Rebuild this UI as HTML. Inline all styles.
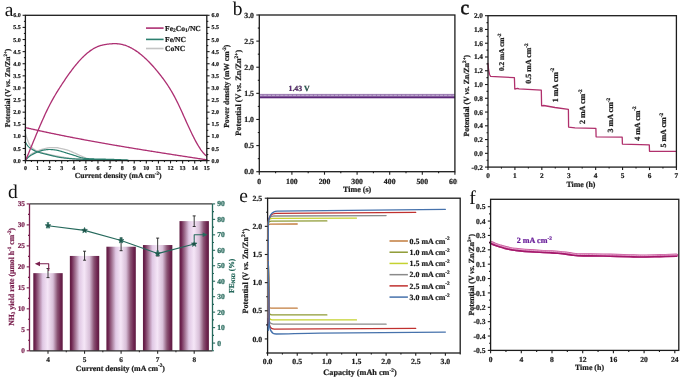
<!DOCTYPE html>
<html><head><meta charset="utf-8"><style>
html,body{margin:0;padding:0;background:#fff;}
svg{display:block;will-change:transform;}
text{font-family:"Liberation Serif",serif;text-rendering:geometricPrecision;}
</style></head><body>
<svg width="685" height="378" viewBox="0 0 685 378">
<rect x="0" y="0" width="685" height="378" fill="#fff"/>
<text x="0" y="0" font-size="78" text-anchor="middle" fill="#111" font-weight="normal" font-family="Liberation Serif" transform="translate(9 15.9) scale(0.25)" >a</text>
<path d="M25.5,133.5 L26,135.32 L26.5,137.01 L27,138.48 L27.5,139.83 L28,141.13 L28.5,142.33 L29,143.42 L29.5,144.37 L30,145.14 L30.5,145.82 L31,146.44 L31.5,147.01 L32,147.52 L32.5,147.99 L33,148.41 L33.5,148.79 L34,149.13 L34.5,149.45 L35,149.74 L35.5,150.01 L36,150.26 L36.5,150.49 L37,150.72 L37.5,150.93 L38,151.13 L38.5,151.32 L39,151.51 L39.5,151.7 L40,151.88 L40.5,152.05 L41,152.22 L41.5,152.39 L42,152.55 L42.5,152.71 L43,152.86 L43.5,153.01 L44,153.15 L44.5,153.29 L45,153.43 L45.5,153.57 L46,153.7 L46.5,153.83 L47,153.95 L47.5,154.08 L48,154.2 L48.5,154.32 L49,154.44 L49.5,154.55 L50,154.66 L50.5,154.77 L51,154.88 L51.5,154.99 L52,155.09 L52.5,155.19 L53,155.29 L53.5,155.39 L54,155.49 L54.5,155.58 L55,155.68 L55.5,155.77 L56,155.87 L56.5,155.96 L57,156.05 L57.5,156.14 L58,156.23 L58.5,156.33 L59,156.42 L59.5,156.51 L60,156.6 L60.5,156.69 L61,156.79 L61.5,156.88 L62,156.97 L62.5,157.07 L63,157.16 L63.5,157.26 L64,157.35 L64.5,157.44 L65,157.53 L65.5,157.62 L66,157.71 L66.5,157.79 L67,157.88 L67.5,157.95 L68,158.03 L68.5,158.1 L69,158.17 L69.5,158.24 L70,158.3 L70.5,158.36 L71,158.42 L71.5,158.47 L72,158.53 L72.5,158.59 L73,158.64 L73.5,158.69 L74,158.75 L74.5,158.8 L75,158.84 L75.5,158.89 L76,158.93 L76.5,158.98 L77,159.02 L77.5,159.05 L78,159.09 L78.5,159.12 L79,159.15 L79.5,159.18 L80,159.2 L80.5,159.22 L81,159.24 L81.5,159.26 L82,159.28 L82.5,159.3 L83,159.32 L83.5,159.33 L84,159.35 L84.5,159.37 L85,159.38 L85.5,159.4 L86,159.41 L86.5,159.43 L87,159.44 L87.5,159.46 L88,159.47 L88.5,159.48 L89,159.49 L89.5,159.5 L90,159.52 L90.5,159.53 L91,159.54 L91.5,159.55 L92,159.55 L92.5,159.56 L93,159.57 L93.5,159.58 L94,159.59 L94.5,159.59 L95,159.6 L95.5,159.61 L96,159.61 L96.5,159.62 L97,159.63 L97.5,159.63 L98,159.64 L98.5,159.64 L99,159.65 L99.5,159.66 L100,159.66 L100.5,159.67 L101,159.67 L101.5,159.68 L102,159.69 L102.5,159.69 L103,159.7 L103.5,159.7 L104,159.71 L104.5,159.71 L105,159.72 L105.5,159.72 L106,159.73 L106.5,159.73 L107,159.74 L107.5,159.74 L108,159.74 L108.5,159.75 L109,159.75 L109.5,159.76 L110,159.76 L110.5,159.76 L111,159.77 L111.5,159.77 L112,159.77 L112.5,159.78 L113,159.78 L113.5,159.78 L114,159.79 L114.5,159.79 L115,159.79 L115.5,159.79 L116,159.79 L116.5,159.79 L117,159.8 L117.5,159.8 L118,159.8 L118.5,159.8 L119,159.8 L119.5,159.8 L120,159.8" fill="none" stroke="#c4c4c4" stroke-width="1.3" stroke-linejoin="round" stroke-linecap="round" />
<path d="M25.5,160 L26,159.34 L26.5,158.69 L27,158.06 L27.5,157.46 L28,156.89 L28.5,156.35 L29,155.86 L29.5,155.4 L30,155 L30.5,154.63 L31,154.29 L31.5,153.96 L32,153.64 L32.5,153.35 L33,153.07 L33.5,152.8 L34,152.54 L34.5,152.29 L35,152.06 L35.5,151.83 L36,151.6 L36.5,151.39 L37,151.17 L37.5,150.96 L38,150.76 L38.5,150.56 L39,150.37 L39.5,150.18 L40,149.99 L40.5,149.82 L41,149.65 L41.5,149.49 L42,149.33 L42.5,149.19 L43,149.05 L43.5,148.92 L44,148.8 L44.5,148.68 L45,148.55 L45.5,148.43 L46,148.31 L46.5,148.19 L47,148.09 L47.5,147.99 L48,147.9 L48.5,147.83 L49,147.77 L49.5,147.72 L50,147.7 L50.5,147.69 L51,147.67 L51.5,147.66 L52,147.65 L52.5,147.64 L53,147.63 L53.5,147.62 L54,147.61 L54.5,147.61 L55,147.6 L55.5,147.6 L56,147.6 L56.5,147.6 L57,147.64 L57.5,147.72 L58,147.82 L58.5,147.94 L59,148.06 L59.5,148.19 L60,148.3 L60.5,148.4 L61,148.51 L61.5,148.62 L62,148.72 L62.5,148.83 L63,148.94 L63.5,149.06 L64,149.17 L64.5,149.3 L65,149.42 L65.5,149.55 L66,149.68 L66.5,149.82 L67,149.97 L67.5,150.12 L68,150.29 L68.5,150.47 L69,150.65 L69.5,150.85 L70,151.05 L70.5,151.25 L71,151.46 L71.5,151.68 L72,151.9 L72.5,152.12 L73,152.34 L73.5,152.56 L74,152.77 L74.5,152.99 L75,153.2 L75.5,153.42 L76,153.65 L76.5,153.87 L77,154.1 L77.5,154.33 L78,154.56 L78.5,154.79 L79,155.02 L79.5,155.25 L80,155.48 L80.5,155.7 L81,155.93 L81.5,156.14 L82,156.36 L82.5,156.58 L83,156.81 L83.5,157.03 L84,157.25 L84.5,157.46 L85,157.67 L85.5,157.87 L86,158.06 L86.5,158.24 L87,158.42 L87.5,158.61 L88,158.8 L88.5,158.97 L89,159.12 L89.5,159.23 L90,159.3 L90.5,159.34 L91,159.38 L91.5,159.41 L92,159.44 L92.5,159.48 L93,159.5 L93.5,159.53 L94,159.56 L94.5,159.58 L95,159.6 L95.5,159.62 L96,159.64 L96.5,159.65 L97,159.66 L97.5,159.68 L98,159.68 L98.5,159.69 L99,159.7 L99.5,159.7 L100,159.7" fill="none" stroke="#c4c4c4" stroke-width="1.3" stroke-linejoin="round" stroke-linecap="round" />
<path d="M25.5,142.1 L26,143.06 L26.5,143.96 L27,144.78 L27.5,145.5 L28,146.11 L28.5,146.64 L29,147.11 L29.5,147.54 L30,147.93 L30.5,148.3 L31,148.63 L31.5,148.96 L32,149.27 L32.5,149.57 L33,149.86 L33.5,150.14 L34,150.4 L34.5,150.65 L35,150.89 L35.5,151.12 L36,151.33 L36.5,151.52 L37,151.71 L37.5,151.89 L38,152.06 L38.5,152.22 L39,152.38 L39.5,152.53 L40,152.68 L40.5,152.83 L41,152.96 L41.5,153.1 L42,153.23 L42.5,153.36 L43,153.48 L43.5,153.61 L44,153.73 L44.5,153.85 L45,153.97 L45.5,154.08 L46,154.2 L46.5,154.32 L47,154.44 L47.5,154.56 L48,154.68 L48.5,154.8 L49,154.92 L49.5,155.05 L50,155.17 L50.5,155.3 L51,155.43 L51.5,155.55 L52,155.68 L52.5,155.8 L53,155.93 L53.5,156.05 L54,156.17 L54.5,156.29 L55,156.41 L55.5,156.52 L56,156.63 L56.5,156.74 L57,156.85 L57.5,156.95 L58,157.05 L58.5,157.14 L59,157.23 L59.5,157.32 L60,157.4 L60.5,157.48 L61,157.55 L61.5,157.63 L62,157.7 L62.5,157.77 L63,157.84 L63.5,157.9 L64,157.97 L64.5,158.03 L65,158.09 L65.5,158.15 L66,158.21 L66.5,158.27 L67,158.32 L67.5,158.37 L68,158.42 L68.5,158.47 L69,158.52 L69.5,158.56 L70,158.6 L70.5,158.64 L71,158.68 L71.5,158.72 L72,158.75 L72.5,158.79 L73,158.83 L73.5,158.86 L74,158.9 L74.5,158.93 L75,158.96 L75.5,158.99 L76,159.02 L76.5,159.05 L77,159.08 L77.5,159.1 L78,159.12 L78.5,159.15 L79,159.17 L79.5,159.18 L80,159.2 L80.5,159.22 L81,159.23 L81.5,159.24 L82,159.26 L82.5,159.27 L83,159.28 L83.5,159.29 L84,159.3 L84.5,159.32 L85,159.33 L85.5,159.34 L86,159.35 L86.5,159.35 L87,159.36 L87.5,159.37 L88,159.38 L88.5,159.39 L89,159.4 L89.5,159.41 L90,159.41 L90.5,159.42 L91,159.43 L91.5,159.44 L92,159.45 L92.5,159.46 L93,159.46 L93.5,159.47 L94,159.48 L94.5,159.49 L95,159.5 L95.5,159.51 L96,159.52 L96.5,159.53 L97,159.54 L97.5,159.55 L98,159.56 L98.5,159.56 L99,159.57 L99.5,159.58 L100,159.59 L100.5,159.6 L101,159.61 L101.5,159.62 L102,159.63 L102.5,159.64 L103,159.65 L103.5,159.66 L104,159.66 L104.5,159.67 L105,159.68 L105.5,159.69 L106,159.7 L106.5,159.71 L107,159.72 L107.5,159.72 L108,159.73 L108.5,159.74 L109,159.75 L109.5,159.76 L110,159.77 L110.5,159.78 L111,159.78 L111.5,159.79 L112,159.8" fill="none" stroke="#2d8070" stroke-width="1.2" stroke-linejoin="round" stroke-linecap="round" />
<path d="M25.5,160 L26,159.48 L26.5,158.96 L27,158.46 L27.5,157.98 L28,157.52 L28.5,157.08 L29,156.67 L29.5,156.28 L30,155.93 L30.5,155.6 L31,155.28 L31.5,154.98 L32,154.68 L32.5,154.4 L33,154.13 L33.5,153.86 L34,153.61 L34.5,153.37 L35,153.14 L35.5,152.91 L36,152.69 L36.5,152.48 L37,152.28 L37.5,152.07 L38,151.87 L38.5,151.66 L39,151.46 L39.5,151.27 L40,151.09 L40.5,150.91 L41,150.74 L41.5,150.59 L42,150.44 L42.5,150.32 L43,150.21 L43.5,150.12 L44,150.04 L44.5,149.96 L45,149.89 L45.5,149.82 L46,149.75 L46.5,149.69 L47,149.63 L47.5,149.59 L48,149.55 L48.5,149.52 L49,149.5 L49.5,149.5 L50,149.51 L50.5,149.52 L51,149.54 L51.5,149.57 L52,149.61 L52.5,149.65 L53,149.7 L53.5,149.75 L54,149.81 L54.5,149.87 L55,149.93 L55.5,149.99 L56,150.06 L56.5,150.13 L57,150.22 L57.5,150.33 L58,150.45 L58.5,150.58 L59,150.72 L59.5,150.86 L60,151 L60.5,151.14 L61,151.28 L61.5,151.43 L62,151.58 L62.5,151.73 L63,151.89 L63.5,152.05 L64,152.21 L64.5,152.37 L65,152.53 L65.5,152.69 L66,152.85 L66.5,153.01 L67,153.17 L67.5,153.32 L68,153.48 L68.5,153.63 L69,153.78 L69.5,153.93 L70,154.08 L70.5,154.23 L71,154.38 L71.5,154.54 L72,154.69 L72.5,154.84 L73,155 L73.5,155.15 L74,155.31 L74.5,155.46 L75,155.63 L75.5,155.8 L76,155.97 L76.5,156.15 L77,156.33 L77.5,156.51 L78,156.69 L78.5,156.86 L79,157.03 L79.5,157.19 L80,157.34 L80.5,157.48 L81,157.61 L81.5,157.72 L82,157.83 L82.5,157.94 L83,158.04 L83.5,158.13 L84,158.22 L84.5,158.31 L85,158.38 L85.5,158.45 L86,158.5 L86.5,158.55 L87,158.59 L87.5,158.64 L88,158.67 L88.5,158.71 L89,158.75 L89.5,158.78 L90,158.81 L90.5,158.83 L91,158.86 L91.5,158.88 L92,158.9 L92.5,158.92 L93,158.93 L93.5,158.95 L94,158.96 L94.5,158.98 L95,158.99 L95.5,159 L96,159.02 L96.5,159.03 L97,159.04 L97.5,159.05 L98,159.06 L98.5,159.07 L99,159.08 L99.5,159.09 L100,159.09 L100.5,159.1 L101,159.11 L101.5,159.12 L102,159.13 L102.5,159.14 L103,159.15 L103.5,159.16 L104,159.18 L104.5,159.19 L105,159.2 L105.5,159.21 L106,159.23 L106.5,159.24 L107,159.25 L107.5,159.27 L108,159.28 L108.5,159.3 L109,159.31 L109.5,159.33 L110,159.34 L110.5,159.36 L111,159.37 L111.5,159.39 L112,159.4 L112.5,159.42 L113,159.43 L113.5,159.45 L114,159.47 L114.5,159.48 L115,159.5 L115.5,159.51 L116,159.53 L116.5,159.55 L117,159.57 L117.5,159.58 L118,159.6 L118.5,159.62 L119,159.64 L119.5,159.65 L120,159.67 L120.5,159.69 L121,159.71 L121.5,159.73 L122,159.75 L122.5,159.77 L123,159.79 L123.5,159.81 L124,159.83 L124.5,159.85 L125,159.87 L125.5,159.89 L126,159.91 L126.5,159.93 L127,159.96 L127.5,159.98 L128,160" fill="none" stroke="#2d8070" stroke-width="1.2" stroke-linejoin="round" stroke-linecap="round" />
<path d="M25.5,127.61 L26.2,127.77 L26.9,127.93 L27.6,128.09 L28.3,128.25 L29,128.41 L29.7,128.57 L30.4,128.73 L31.1,128.89 L31.8,129.04 L32.5,129.2 L33.2,129.36 L33.9,129.51 L34.6,129.67 L35.3,129.83 L36,129.98 L36.7,130.13 L37.4,130.29 L38.1,130.44 L38.8,130.6 L39.5,130.75 L40.2,130.9 L40.9,131.05 L41.6,131.2 L42.3,131.36 L43,131.51 L43.7,131.66 L44.4,131.81 L45.1,131.96 L45.8,132.11 L46.5,132.25 L47.2,132.4 L47.9,132.55 L48.6,132.7 L49.3,132.85 L50,132.99 L50.7,133.14 L51.4,133.29 L52.1,133.43 L52.8,133.58 L53.5,133.72 L54.2,133.87 L54.9,134.01 L55.6,134.16 L56.3,134.3 L57,134.44 L57.7,134.59 L58.4,134.73 L59.1,134.87 L59.8,135.01 L60.5,135.15 L61.2,135.3 L61.9,135.44 L62.6,135.58 L63.3,135.72 L64,135.86 L64.7,136 L65.4,136.14 L66.1,136.27 L66.8,136.41 L67.5,136.55 L68.2,136.69 L68.9,136.83 L69.6,136.96 L70.3,137.1 L71,137.24 L71.7,137.37 L72.4,137.51 L73.1,137.65 L73.8,137.78 L74.5,137.92 L75.2,138.05 L75.9,138.18 L76.6,138.32 L77.3,138.45 L78,138.59 L78.7,138.72 L79.4,138.85 L80.1,138.98 L80.8,139.12 L81.5,139.25 L82.2,139.38 L82.9,139.51 L83.6,139.64 L84.3,139.77 L85,139.9 L85.7,140.03 L86.4,140.16 L87.1,140.29 L87.8,140.42 L88.5,140.55 L89.2,140.68 L89.9,140.81 L90.6,140.94 L91.3,141.07 L92,141.19 L92.7,141.32 L93.4,141.45 L94.1,141.58 L94.8,141.7 L95.5,141.83 L96.2,141.95 L96.9,142.08 L97.6,142.21 L98.3,142.33 L99,142.46 L99.7,142.58 L100.4,142.71 L101.1,142.83 L101.8,142.95 L102.5,143.08 L103.2,143.2 L103.9,143.33 L104.6,143.45 L105.3,143.57 L106,143.69 L106.7,143.82 L107.4,143.94 L108.1,144.06 L108.8,144.18 L109.5,144.31 L110.2,144.43 L110.9,144.55 L111.6,144.67 L112.3,144.79 L113,144.91 L113.7,145.03 L114.4,145.15 L115.1,145.27 L115.8,145.39 L116.5,145.51 L117.2,145.63 L117.9,145.75 L118.6,145.87 L119.3,145.99 L120,146.1 L120.7,146.22 L121.4,146.34 L122.1,146.46 L122.8,146.58 L123.5,146.69 L124.2,146.81 L124.9,146.93 L125.6,147.04 L126.3,147.16 L127,147.28 L127.7,147.39 L128.4,147.51 L129.1,147.63 L129.8,147.74 L130.5,147.86 L131.2,147.97 L131.9,148.09 L132.6,148.2 L133.3,148.32 L134,148.43 L134.7,148.55 L135.4,148.66 L136.1,148.78 L136.8,148.89 L137.5,149.01 L138.2,149.12 L138.9,149.23 L139.6,149.35 L140.3,149.46 L141,149.57 L141.7,149.69 L142.4,149.8 L143.1,149.91 L143.8,150.03 L144.5,150.14 L145.2,150.25 L145.9,150.36 L146.6,150.47 L147.3,150.59 L148,150.7 L148.7,150.81 L149.4,150.92 L150.1,151.03 L150.8,151.15 L151.5,151.26 L152.2,151.37 L152.9,151.48 L153.6,151.59 L154.3,151.7 L155,151.81 L155.7,151.92 L156.4,152.03 L157.1,152.14 L157.8,152.25 L158.5,152.36 L159.2,152.47 L159.9,152.58 L160.6,152.69 L161.3,152.8 L162,152.91 L162.7,153.02 L163.4,153.13 L164.1,153.24 L164.8,153.35 L165.5,153.46 L166.2,153.57 L166.9,153.68 L167.6,153.79 L168.3,153.9 L169,154.01 L169.7,154.12 L170.4,154.23 L171.1,154.33 L171.8,154.44 L172.5,154.55 L173.2,154.66 L173.9,154.77 L174.6,154.88 L175.3,154.99 L176,155.09 L176.7,155.2 L177.4,155.31 L178.1,155.42 L178.8,155.53 L179.5,155.63 L180.2,155.74 L180.9,155.85 L181.6,155.96 L182.3,156.07 L183,156.17 L183.7,156.28 L184.4,156.39 L185.1,156.5 L185.8,156.6 L186.5,156.71 L187.2,156.82 L187.9,156.93 L188.6,157.04 L189.3,157.14 L190,157.25 L190.7,157.36 L191.4,157.47 L192.1,157.57 L192.8,157.68 L193.5,157.79 L194.2,157.9 L194.9,158 L195.6,158.11 L196.3,158.22 L197,158.33 L197.7,158.43 L198.4,158.54 L199.1,158.65 L199.8,158.75 L200.5,158.86 L201.2,158.97 L201.9,159.08 L202.6,159.18 L203.3,159.29 L204,159.4 L204.7,159.51 L205.4,159.61 L206.1,159.72 L206.8,159.83 L207,159.86" fill="none" stroke="#ad2f72" stroke-width="1.3" stroke-linejoin="round" stroke-linecap="round" />
<path d="M25.4,160.81 L26.1,159.15 L26.8,157.48 L27.5,155.81 L28.2,154.13 L28.9,152.44 L29.6,150.75 L30.3,149.05 L31,147.36 L31.7,145.66 L32.4,143.96 L33.1,142.27 L33.8,140.57 L34.5,138.88 L35.2,137.19 L35.9,135.51 L36.6,133.83 L37.3,132.17 L38,130.51 L38.7,128.86 L39.4,127.21 L40.1,125.59 L40.8,123.97 L41.5,122.37 L42.2,120.78 L42.9,119.2 L43.6,117.65 L44.3,116.11 L45,114.59 L45.7,113.09 L46.4,111.61 L47.1,110.15 L47.8,108.71 L48.5,107.3 L49.2,105.92 L49.9,104.56 L50.6,103.22 L51.3,101.91 L52,100.63 L52.7,99.37 L53.4,98.13 L54.1,96.91 L54.8,95.71 L55.5,94.52 L56.2,93.36 L56.9,92.21 L57.6,91.07 L58.3,89.95 L59,88.84 L59.7,87.74 L60.4,86.65 L61.1,85.57 L61.8,84.49 L62.5,83.42 L63.2,82.36 L63.9,81.31 L64.6,80.27 L65.3,79.23 L66,78.2 L66.7,77.18 L67.4,76.18 L68.1,75.18 L68.8,74.19 L69.5,73.21 L70.2,72.25 L70.9,71.3 L71.6,70.35 L72.3,69.43 L73,68.51 L73.7,67.61 L74.4,66.72 L75.1,65.85 L75.8,64.99 L76.5,64.14 L77.2,63.31 L77.9,62.49 L78.6,61.69 L79.3,60.91 L80,60.14 L80.7,59.38 L81.4,58.65 L82.1,57.92 L82.8,57.22 L83.5,56.53 L84.2,55.86 L84.9,55.21 L85.6,54.57 L86.3,53.95 L87,53.35 L87.7,52.77 L88.4,52.21 L89.1,51.66 L89.8,51.14 L90.5,50.63 L91.2,50.15 L91.9,49.68 L92.6,49.23 L93.3,48.81 L94,48.4 L94.7,48.02 L95.4,47.65 L96.1,47.31 L96.8,46.99 L97.5,46.69 L98.2,46.41 L98.9,46.15 L99.6,45.91 L100.3,45.69 L101,45.48 L101.7,45.29 L102.4,45.11 L103.1,44.95 L103.8,44.8 L104.5,44.66 L105.2,44.53 L105.9,44.42 L106.6,44.31 L107.3,44.21 L108,44.12 L108.7,44.04 L109.4,43.96 L110.1,43.89 L110.8,43.83 L111.5,43.78 L112.2,43.73 L112.9,43.7 L113.6,43.68 L114.3,43.66 L115,43.66 L115.7,43.68 L116.4,43.7 L117.1,43.74 L117.8,43.8 L118.5,43.87 L119.2,43.95 L119.9,44.05 L120.6,44.17 L121.3,44.31 L122,44.46 L122.7,44.63 L123.4,44.81 L124.1,45.02 L124.8,45.23 L125.5,45.47 L126.2,45.72 L126.9,45.99 L127.6,46.27 L128.3,46.57 L129,46.88 L129.7,47.21 L130.4,47.56 L131.1,47.92 L131.8,48.29 L132.5,48.69 L133.2,49.09 L133.9,49.51 L134.6,49.95 L135.3,50.4 L136,50.86 L136.7,51.34 L137.4,51.83 L138.1,52.34 L138.8,52.86 L139.5,53.39 L140.2,53.94 L140.9,54.5 L141.6,55.08 L142.3,55.67 L143,56.27 L143.7,56.88 L144.4,57.51 L145.1,58.15 L145.8,58.8 L146.5,59.47 L147.2,60.15 L147.9,60.84 L148.6,61.54 L149.3,62.26 L150,62.98 L150.7,63.72 L151.4,64.47 L152.1,65.24 L152.8,66.01 L153.5,66.79 L154.2,67.59 L154.9,68.4 L155.6,69.22 L156.3,70.05 L157,70.89 L157.7,71.74 L158.4,72.6 L159.1,73.47 L159.8,74.35 L160.5,75.25 L161.2,76.15 L161.9,77.07 L162.6,78 L163.3,78.94 L164,79.9 L164.7,80.87 L165.4,81.87 L166.1,82.87 L166.8,83.9 L167.5,84.95 L168.2,86.01 L168.9,87.1 L169.6,88.21 L170.3,89.34 L171,90.5 L171.7,91.68 L172.4,92.89 L173.1,94.12 L173.8,95.38 L174.5,96.67 L175.2,97.99 L175.9,99.34 L176.6,100.72 L177.3,102.13 L178,103.56 L178.7,105.02 L179.4,106.5 L180.1,108 L180.8,109.52 L181.5,111.05 L182.2,112.59 L182.9,114.14 L183.6,115.7 L184.3,117.26 L185,118.82 L185.7,120.38 L186.4,121.94 L187.1,123.49 L187.8,125.03 L188.5,126.56 L189.2,128.08 L189.9,129.58 L190.6,131.06 L191.3,132.53 L192,133.98 L192.7,135.4 L193.4,136.8 L194.1,138.17 L194.8,139.51 L195.5,140.83 L196.2,142.11 L196.9,143.36 L197.6,144.57 L198.3,145.74 L199,146.88 L199.7,147.97 L200.4,149.02 L201.1,150.03 L201.8,150.99 L202.5,151.9 L203.2,152.75 L203.9,153.55 L204.6,154.3 L205.3,154.99 L206,155.61 L206.6,156.1" fill="none" stroke="#ad2f72" stroke-width="1.3" stroke-linejoin="round" stroke-linecap="round" />
<rect x="25.4" y="15.3" width="181.4" height="145.3" fill="none" stroke="#1c1c1c" stroke-width="1.3"/>
<line x1="22.6" y1="160.6" x2="25.4" y2="160.6" stroke="#1c1c1c" stroke-width="1.1" />
<text x="0" y="0" font-size="24" text-anchor="end" fill="#1c1c1c" font-weight="bold" font-family="Liberation Serif" stroke="#1c1c1c" stroke-width="0.88" transform="translate(20.7 162.64) scale(0.25)" >0.0</text>
<line x1="22.6" y1="148.49" x2="25.4" y2="148.49" stroke="#1c1c1c" stroke-width="1.1" />
<text x="0" y="0" font-size="24" text-anchor="end" fill="#1c1c1c" font-weight="bold" font-family="Liberation Serif" stroke="#1c1c1c" stroke-width="0.88" transform="translate(20.7 150.53) scale(0.25)" >0.5</text>
<line x1="22.6" y1="136.38" x2="25.4" y2="136.38" stroke="#1c1c1c" stroke-width="1.1" />
<text x="0" y="0" font-size="24" text-anchor="end" fill="#1c1c1c" font-weight="bold" font-family="Liberation Serif" stroke="#1c1c1c" stroke-width="0.88" transform="translate(20.7 138.42) scale(0.25)" >1.0</text>
<line x1="22.6" y1="124.28" x2="25.4" y2="124.28" stroke="#1c1c1c" stroke-width="1.1" />
<text x="0" y="0" font-size="24" text-anchor="end" fill="#1c1c1c" font-weight="bold" font-family="Liberation Serif" stroke="#1c1c1c" stroke-width="0.88" transform="translate(20.7 126.32) scale(0.25)" >1.5</text>
<line x1="22.6" y1="112.17" x2="25.4" y2="112.17" stroke="#1c1c1c" stroke-width="1.1" />
<text x="0" y="0" font-size="24" text-anchor="end" fill="#1c1c1c" font-weight="bold" font-family="Liberation Serif" stroke="#1c1c1c" stroke-width="0.88" transform="translate(20.7 114.21) scale(0.25)" >2.0</text>
<line x1="22.6" y1="100.06" x2="25.4" y2="100.06" stroke="#1c1c1c" stroke-width="1.1" />
<text x="0" y="0" font-size="24" text-anchor="end" fill="#1c1c1c" font-weight="bold" font-family="Liberation Serif" stroke="#1c1c1c" stroke-width="0.88" transform="translate(20.7 102.1) scale(0.25)" >2.5</text>
<line x1="22.6" y1="87.95" x2="25.4" y2="87.95" stroke="#1c1c1c" stroke-width="1.1" />
<text x="0" y="0" font-size="24" text-anchor="end" fill="#1c1c1c" font-weight="bold" font-family="Liberation Serif" stroke="#1c1c1c" stroke-width="0.88" transform="translate(20.7 89.99) scale(0.25)" >3.0</text>
<line x1="22.6" y1="75.84" x2="25.4" y2="75.84" stroke="#1c1c1c" stroke-width="1.1" />
<text x="0" y="0" font-size="24" text-anchor="end" fill="#1c1c1c" font-weight="bold" font-family="Liberation Serif" stroke="#1c1c1c" stroke-width="0.88" transform="translate(20.7 77.88) scale(0.25)" >3.5</text>
<line x1="22.6" y1="63.73" x2="25.4" y2="63.73" stroke="#1c1c1c" stroke-width="1.1" />
<text x="0" y="0" font-size="24" text-anchor="end" fill="#1c1c1c" font-weight="bold" font-family="Liberation Serif" stroke="#1c1c1c" stroke-width="0.88" transform="translate(20.7 65.77) scale(0.25)" >4.0</text>
<line x1="22.6" y1="51.63" x2="25.4" y2="51.63" stroke="#1c1c1c" stroke-width="1.1" />
<text x="0" y="0" font-size="24" text-anchor="end" fill="#1c1c1c" font-weight="bold" font-family="Liberation Serif" stroke="#1c1c1c" stroke-width="0.88" transform="translate(20.7 53.67) scale(0.25)" >4.5</text>
<line x1="22.6" y1="39.52" x2="25.4" y2="39.52" stroke="#1c1c1c" stroke-width="1.1" />
<text x="0" y="0" font-size="24" text-anchor="end" fill="#1c1c1c" font-weight="bold" font-family="Liberation Serif" stroke="#1c1c1c" stroke-width="0.88" transform="translate(20.7 41.56) scale(0.25)" >5.0</text>
<line x1="22.6" y1="27.41" x2="25.4" y2="27.41" stroke="#1c1c1c" stroke-width="1.1" />
<text x="0" y="0" font-size="24" text-anchor="end" fill="#1c1c1c" font-weight="bold" font-family="Liberation Serif" stroke="#1c1c1c" stroke-width="0.88" transform="translate(20.7 29.45) scale(0.25)" >5.5</text>
<line x1="22.6" y1="15.3" x2="25.4" y2="15.3" stroke="#1c1c1c" stroke-width="1.1" />
<text x="0" y="0" font-size="24" text-anchor="end" fill="#1c1c1c" font-weight="bold" font-family="Liberation Serif" stroke="#1c1c1c" stroke-width="0.88" transform="translate(20.7 17.34) scale(0.25)" >6.0</text>
<line x1="23.9" y1="154.55" x2="25.4" y2="154.55" stroke="#1c1c1c" stroke-width="1.1" />
<line x1="23.9" y1="142.44" x2="25.4" y2="142.44" stroke="#1c1c1c" stroke-width="1.1" />
<line x1="23.9" y1="130.33" x2="25.4" y2="130.33" stroke="#1c1c1c" stroke-width="1.1" />
<line x1="23.9" y1="118.22" x2="25.4" y2="118.22" stroke="#1c1c1c" stroke-width="1.1" />
<line x1="23.9" y1="106.11" x2="25.4" y2="106.11" stroke="#1c1c1c" stroke-width="1.1" />
<line x1="23.9" y1="94" x2="25.4" y2="94" stroke="#1c1c1c" stroke-width="1.1" />
<line x1="23.9" y1="81.9" x2="25.4" y2="81.9" stroke="#1c1c1c" stroke-width="1.1" />
<line x1="23.9" y1="69.79" x2="25.4" y2="69.79" stroke="#1c1c1c" stroke-width="1.1" />
<line x1="23.9" y1="57.68" x2="25.4" y2="57.68" stroke="#1c1c1c" stroke-width="1.1" />
<line x1="23.9" y1="45.57" x2="25.4" y2="45.57" stroke="#1c1c1c" stroke-width="1.1" />
<line x1="23.9" y1="33.46" x2="25.4" y2="33.46" stroke="#1c1c1c" stroke-width="1.1" />
<line x1="23.9" y1="21.35" x2="25.4" y2="21.35" stroke="#1c1c1c" stroke-width="1.1" />
<line x1="206.8" y1="160.6" x2="209.6" y2="160.6" stroke="#1c1c1c" stroke-width="1.1" />
<text x="0" y="0" font-size="24" text-anchor="start" fill="#1c1c1c" font-weight="bold" font-family="Liberation Serif" stroke="#1c1c1c" stroke-width="0.88" transform="translate(211.6 162.64) scale(0.25)" >0.0</text>
<line x1="206.8" y1="148.49" x2="209.6" y2="148.49" stroke="#1c1c1c" stroke-width="1.1" />
<text x="0" y="0" font-size="24" text-anchor="start" fill="#1c1c1c" font-weight="bold" font-family="Liberation Serif" stroke="#1c1c1c" stroke-width="0.88" transform="translate(211.6 150.53) scale(0.25)" >0.5</text>
<line x1="206.8" y1="136.38" x2="209.6" y2="136.38" stroke="#1c1c1c" stroke-width="1.1" />
<text x="0" y="0" font-size="24" text-anchor="start" fill="#1c1c1c" font-weight="bold" font-family="Liberation Serif" stroke="#1c1c1c" stroke-width="0.88" transform="translate(211.6 138.42) scale(0.25)" >1.0</text>
<line x1="206.8" y1="124.28" x2="209.6" y2="124.28" stroke="#1c1c1c" stroke-width="1.1" />
<text x="0" y="0" font-size="24" text-anchor="start" fill="#1c1c1c" font-weight="bold" font-family="Liberation Serif" stroke="#1c1c1c" stroke-width="0.88" transform="translate(211.6 126.32) scale(0.25)" >1.5</text>
<line x1="206.8" y1="112.17" x2="209.6" y2="112.17" stroke="#1c1c1c" stroke-width="1.1" />
<text x="0" y="0" font-size="24" text-anchor="start" fill="#1c1c1c" font-weight="bold" font-family="Liberation Serif" stroke="#1c1c1c" stroke-width="0.88" transform="translate(211.6 114.21) scale(0.25)" >2.0</text>
<line x1="206.8" y1="100.06" x2="209.6" y2="100.06" stroke="#1c1c1c" stroke-width="1.1" />
<text x="0" y="0" font-size="24" text-anchor="start" fill="#1c1c1c" font-weight="bold" font-family="Liberation Serif" stroke="#1c1c1c" stroke-width="0.88" transform="translate(211.6 102.1) scale(0.25)" >2.5</text>
<line x1="206.8" y1="87.95" x2="209.6" y2="87.95" stroke="#1c1c1c" stroke-width="1.1" />
<text x="0" y="0" font-size="24" text-anchor="start" fill="#1c1c1c" font-weight="bold" font-family="Liberation Serif" stroke="#1c1c1c" stroke-width="0.88" transform="translate(211.6 89.99) scale(0.25)" >3.0</text>
<line x1="206.8" y1="75.84" x2="209.6" y2="75.84" stroke="#1c1c1c" stroke-width="1.1" />
<text x="0" y="0" font-size="24" text-anchor="start" fill="#1c1c1c" font-weight="bold" font-family="Liberation Serif" stroke="#1c1c1c" stroke-width="0.88" transform="translate(211.6 77.88) scale(0.25)" >3.5</text>
<line x1="206.8" y1="63.73" x2="209.6" y2="63.73" stroke="#1c1c1c" stroke-width="1.1" />
<text x="0" y="0" font-size="24" text-anchor="start" fill="#1c1c1c" font-weight="bold" font-family="Liberation Serif" stroke="#1c1c1c" stroke-width="0.88" transform="translate(211.6 65.77) scale(0.25)" >4.0</text>
<line x1="206.8" y1="51.63" x2="209.6" y2="51.63" stroke="#1c1c1c" stroke-width="1.1" />
<text x="0" y="0" font-size="24" text-anchor="start" fill="#1c1c1c" font-weight="bold" font-family="Liberation Serif" stroke="#1c1c1c" stroke-width="0.88" transform="translate(211.6 53.67) scale(0.25)" >4.5</text>
<line x1="206.8" y1="39.52" x2="209.6" y2="39.52" stroke="#1c1c1c" stroke-width="1.1" />
<text x="0" y="0" font-size="24" text-anchor="start" fill="#1c1c1c" font-weight="bold" font-family="Liberation Serif" stroke="#1c1c1c" stroke-width="0.88" transform="translate(211.6 41.56) scale(0.25)" >5.0</text>
<line x1="206.8" y1="27.41" x2="209.6" y2="27.41" stroke="#1c1c1c" stroke-width="1.1" />
<text x="0" y="0" font-size="24" text-anchor="start" fill="#1c1c1c" font-weight="bold" font-family="Liberation Serif" stroke="#1c1c1c" stroke-width="0.88" transform="translate(211.6 29.45) scale(0.25)" >5.5</text>
<line x1="206.8" y1="15.3" x2="209.6" y2="15.3" stroke="#1c1c1c" stroke-width="1.1" />
<text x="0" y="0" font-size="24" text-anchor="start" fill="#1c1c1c" font-weight="bold" font-family="Liberation Serif" stroke="#1c1c1c" stroke-width="0.88" transform="translate(211.6 17.34) scale(0.25)" >6.0</text>
<line x1="206.8" y1="154.55" x2="208.3" y2="154.55" stroke="#1c1c1c" stroke-width="1.1" />
<line x1="206.8" y1="142.44" x2="208.3" y2="142.44" stroke="#1c1c1c" stroke-width="1.1" />
<line x1="206.8" y1="130.33" x2="208.3" y2="130.33" stroke="#1c1c1c" stroke-width="1.1" />
<line x1="206.8" y1="118.22" x2="208.3" y2="118.22" stroke="#1c1c1c" stroke-width="1.1" />
<line x1="206.8" y1="106.11" x2="208.3" y2="106.11" stroke="#1c1c1c" stroke-width="1.1" />
<line x1="206.8" y1="94" x2="208.3" y2="94" stroke="#1c1c1c" stroke-width="1.1" />
<line x1="206.8" y1="81.9" x2="208.3" y2="81.9" stroke="#1c1c1c" stroke-width="1.1" />
<line x1="206.8" y1="69.79" x2="208.3" y2="69.79" stroke="#1c1c1c" stroke-width="1.1" />
<line x1="206.8" y1="57.68" x2="208.3" y2="57.68" stroke="#1c1c1c" stroke-width="1.1" />
<line x1="206.8" y1="45.57" x2="208.3" y2="45.57" stroke="#1c1c1c" stroke-width="1.1" />
<line x1="206.8" y1="33.46" x2="208.3" y2="33.46" stroke="#1c1c1c" stroke-width="1.1" />
<line x1="206.8" y1="21.35" x2="208.3" y2="21.35" stroke="#1c1c1c" stroke-width="1.1" />
<line x1="25.4" y1="160.6" x2="25.4" y2="163.4" stroke="#1c1c1c" stroke-width="1.1" />
<text x="0" y="0" font-size="24" text-anchor="middle" fill="#1c1c1c" font-weight="bold" font-family="Liberation Serif" stroke="#1c1c1c" stroke-width="0.88" transform="translate(25.4 170.24) scale(0.25)" >0</text>
<line x1="37.49" y1="160.6" x2="37.49" y2="163.4" stroke="#1c1c1c" stroke-width="1.1" />
<text x="0" y="0" font-size="24" text-anchor="middle" fill="#1c1c1c" font-weight="bold" font-family="Liberation Serif" stroke="#1c1c1c" stroke-width="0.88" transform="translate(37.49 170.24) scale(0.25)" >1</text>
<line x1="49.59" y1="160.6" x2="49.59" y2="163.4" stroke="#1c1c1c" stroke-width="1.1" />
<text x="0" y="0" font-size="24" text-anchor="middle" fill="#1c1c1c" font-weight="bold" font-family="Liberation Serif" stroke="#1c1c1c" stroke-width="0.88" transform="translate(49.59 170.24) scale(0.25)" >2</text>
<line x1="61.68" y1="160.6" x2="61.68" y2="163.4" stroke="#1c1c1c" stroke-width="1.1" />
<text x="0" y="0" font-size="24" text-anchor="middle" fill="#1c1c1c" font-weight="bold" font-family="Liberation Serif" stroke="#1c1c1c" stroke-width="0.88" transform="translate(61.68 170.24) scale(0.25)" >3</text>
<line x1="73.77" y1="160.6" x2="73.77" y2="163.4" stroke="#1c1c1c" stroke-width="1.1" />
<text x="0" y="0" font-size="24" text-anchor="middle" fill="#1c1c1c" font-weight="bold" font-family="Liberation Serif" stroke="#1c1c1c" stroke-width="0.88" transform="translate(73.77 170.24) scale(0.25)" >4</text>
<line x1="85.87" y1="160.6" x2="85.87" y2="163.4" stroke="#1c1c1c" stroke-width="1.1" />
<text x="0" y="0" font-size="24" text-anchor="middle" fill="#1c1c1c" font-weight="bold" font-family="Liberation Serif" stroke="#1c1c1c" stroke-width="0.88" transform="translate(85.87 170.24) scale(0.25)" >5</text>
<line x1="97.96" y1="160.6" x2="97.96" y2="163.4" stroke="#1c1c1c" stroke-width="1.1" />
<text x="0" y="0" font-size="24" text-anchor="middle" fill="#1c1c1c" font-weight="bold" font-family="Liberation Serif" stroke="#1c1c1c" stroke-width="0.88" transform="translate(97.96 170.24) scale(0.25)" >6</text>
<line x1="110.05" y1="160.6" x2="110.05" y2="163.4" stroke="#1c1c1c" stroke-width="1.1" />
<text x="0" y="0" font-size="24" text-anchor="middle" fill="#1c1c1c" font-weight="bold" font-family="Liberation Serif" stroke="#1c1c1c" stroke-width="0.88" transform="translate(110.05 170.24) scale(0.25)" >7</text>
<line x1="122.15" y1="160.6" x2="122.15" y2="163.4" stroke="#1c1c1c" stroke-width="1.1" />
<text x="0" y="0" font-size="24" text-anchor="middle" fill="#1c1c1c" font-weight="bold" font-family="Liberation Serif" stroke="#1c1c1c" stroke-width="0.88" transform="translate(122.15 170.24) scale(0.25)" >8</text>
<line x1="134.24" y1="160.6" x2="134.24" y2="163.4" stroke="#1c1c1c" stroke-width="1.1" />
<text x="0" y="0" font-size="24" text-anchor="middle" fill="#1c1c1c" font-weight="bold" font-family="Liberation Serif" stroke="#1c1c1c" stroke-width="0.88" transform="translate(134.24 170.24) scale(0.25)" >9</text>
<line x1="146.33" y1="160.6" x2="146.33" y2="163.4" stroke="#1c1c1c" stroke-width="1.1" />
<text x="0" y="0" font-size="24" text-anchor="middle" fill="#1c1c1c" font-weight="bold" font-family="Liberation Serif" stroke="#1c1c1c" stroke-width="0.88" transform="translate(146.33 170.24) scale(0.25)" >10</text>
<line x1="158.43" y1="160.6" x2="158.43" y2="163.4" stroke="#1c1c1c" stroke-width="1.1" />
<text x="0" y="0" font-size="24" text-anchor="middle" fill="#1c1c1c" font-weight="bold" font-family="Liberation Serif" stroke="#1c1c1c" stroke-width="0.88" transform="translate(158.43 170.24) scale(0.25)" >11</text>
<line x1="170.52" y1="160.6" x2="170.52" y2="163.4" stroke="#1c1c1c" stroke-width="1.1" />
<text x="0" y="0" font-size="24" text-anchor="middle" fill="#1c1c1c" font-weight="bold" font-family="Liberation Serif" stroke="#1c1c1c" stroke-width="0.88" transform="translate(170.52 170.24) scale(0.25)" >12</text>
<line x1="182.61" y1="160.6" x2="182.61" y2="163.4" stroke="#1c1c1c" stroke-width="1.1" />
<text x="0" y="0" font-size="24" text-anchor="middle" fill="#1c1c1c" font-weight="bold" font-family="Liberation Serif" stroke="#1c1c1c" stroke-width="0.88" transform="translate(182.61 170.24) scale(0.25)" >13</text>
<line x1="194.71" y1="160.6" x2="194.71" y2="163.4" stroke="#1c1c1c" stroke-width="1.1" />
<text x="0" y="0" font-size="24" text-anchor="middle" fill="#1c1c1c" font-weight="bold" font-family="Liberation Serif" stroke="#1c1c1c" stroke-width="0.88" transform="translate(194.71 170.24) scale(0.25)" >14</text>
<line x1="206.8" y1="160.6" x2="206.8" y2="163.4" stroke="#1c1c1c" stroke-width="1.1" />
<text x="0" y="0" font-size="24" text-anchor="middle" fill="#1c1c1c" font-weight="bold" font-family="Liberation Serif" stroke="#1c1c1c" stroke-width="0.88" transform="translate(206.8 170.24) scale(0.25)" >15</text>
<line x1="31.45" y1="160.6" x2="31.45" y2="162.1" stroke="#1c1c1c" stroke-width="1.1" />
<line x1="43.54" y1="160.6" x2="43.54" y2="162.1" stroke="#1c1c1c" stroke-width="1.1" />
<line x1="55.63" y1="160.6" x2="55.63" y2="162.1" stroke="#1c1c1c" stroke-width="1.1" />
<line x1="67.73" y1="160.6" x2="67.73" y2="162.1" stroke="#1c1c1c" stroke-width="1.1" />
<line x1="79.82" y1="160.6" x2="79.82" y2="162.1" stroke="#1c1c1c" stroke-width="1.1" />
<line x1="91.91" y1="160.6" x2="91.91" y2="162.1" stroke="#1c1c1c" stroke-width="1.1" />
<line x1="104.01" y1="160.6" x2="104.01" y2="162.1" stroke="#1c1c1c" stroke-width="1.1" />
<line x1="116.1" y1="160.6" x2="116.1" y2="162.1" stroke="#1c1c1c" stroke-width="1.1" />
<line x1="128.19" y1="160.6" x2="128.19" y2="162.1" stroke="#1c1c1c" stroke-width="1.1" />
<line x1="140.29" y1="160.6" x2="140.29" y2="162.1" stroke="#1c1c1c" stroke-width="1.1" />
<line x1="152.38" y1="160.6" x2="152.38" y2="162.1" stroke="#1c1c1c" stroke-width="1.1" />
<line x1="164.47" y1="160.6" x2="164.47" y2="162.1" stroke="#1c1c1c" stroke-width="1.1" />
<line x1="176.57" y1="160.6" x2="176.57" y2="162.1" stroke="#1c1c1c" stroke-width="1.1" />
<line x1="188.66" y1="160.6" x2="188.66" y2="162.1" stroke="#1c1c1c" stroke-width="1.1" />
<line x1="200.75" y1="160.6" x2="200.75" y2="162.1" stroke="#1c1c1c" stroke-width="1.1" />
<line x1="146" y1="28.1" x2="163.6" y2="28.1" stroke="#ad2f72" stroke-width="1.6" />
<line x1="146" y1="39.4" x2="163.6" y2="39.4" stroke="#2d8070" stroke-width="1.6" />
<line x1="146" y1="48.5" x2="163.6" y2="48.5" stroke="#c4c4c4" stroke-width="1.6" />
<text x="0" y="0" font-size="30.4" text-anchor="start" fill="#1c1c1c" font-weight="bold" font-family="Liberation Serif" stroke="#1c1c1c" stroke-width="0.88" transform="translate(165 30.68) scale(0.25)" >Fe<tspan baseline-shift="-4.88" font-size="21.88">2</tspan>Co<tspan baseline-shift="-4.88" font-size="21.88">1</tspan>/NC</text>
<text x="0" y="0" font-size="30.4" text-anchor="start" fill="#1c1c1c" font-weight="bold" font-family="Liberation Serif" stroke="#1c1c1c" stroke-width="0.88" transform="translate(165 41.98) scale(0.25)" >Fe/NC</text>
<text x="0" y="0" font-size="30.4" text-anchor="start" fill="#1c1c1c" font-weight="bold" font-family="Liberation Serif" stroke="#1c1c1c" stroke-width="0.88" transform="translate(165 51.08) scale(0.25)" >CoNC</text>
<text x="0" y="0" font-size="30.8" text-anchor="middle" fill="#1c1c1c" font-weight="bold" font-family="Liberation Serif" stroke="#1c1c1c" stroke-width="0.88" transform="translate(118.2 177.6) scale(0.25)" >Current density (mA cm<tspan baseline-shift="12.32" font-size="20.32">-2</tspan>)</text>
<text x="0" y="0" font-size="30" text-anchor="middle" fill="#1c1c1c" font-weight="bold" font-family="Liberation Serif" stroke="#1c1c1c" stroke-width="0.88" transform="translate(9.6 88) rotate(-90) scale(0.25)" >Potential (V <tspan font-style="italic">vs.</tspan> Zn/Zn<tspan baseline-shift="12" font-size="19.8">2+</tspan>)</text>
<text x="0" y="0" font-size="30.8" text-anchor="middle" fill="#1c1c1c" font-weight="bold" font-family="Liberation Serif" stroke="#1c1c1c" stroke-width="0.88" transform="translate(228.6 86.2) rotate(-90) scale(0.25)" >Power density (mW cm<tspan baseline-shift="12.32" font-size="20.32">-2</tspan>)</text>
<text x="0" y="0" font-size="78" text-anchor="middle" fill="#111" font-weight="normal" font-family="Liberation Serif" transform="translate(237.5 14.6) scale(0.25)" >b</text>
<rect x="259.3" y="93.9" width="195.59999999999997" height="2.9" fill="#9878b0"/>
<line x1="259.3" y1="95.3" x2="454.9" y2="95.3" stroke="#c7b0d6" stroke-width="1.0" stroke-dasharray="3.2 1.0"/>
<rect x="259.3" y="96.5" width="195.59999999999997" height="1.8" fill="#5c2679"/>
<text x="0" y="0" font-size="31.2" text-anchor="start" fill="#1c1c1c" font-weight="bold" font-family="Liberation Serif" stroke="#1c1c1c" stroke-width="0.88" transform="translate(288.5 91) scale(0.25)" ><tspan fill="#6a2b8a">1.43 </tspan><tspan fill="#256b5e">V</tspan></text>
<rect x="259.3" y="15" width="195.6" height="156.7" fill="none" stroke="#1c1c1c" stroke-width="1.3"/>
<line x1="256.3" y1="171.7" x2="259.3" y2="171.7" stroke="#1c1c1c" stroke-width="1.1" />
<text x="0" y="0" font-size="31.2" text-anchor="end" fill="#1c1c1c" font-weight="bold" font-family="Liberation Serif" stroke="#1c1c1c" stroke-width="0.88" transform="translate(254 174.35) scale(0.25)" >0.0</text>
<line x1="256.3" y1="145.58" x2="259.3" y2="145.58" stroke="#1c1c1c" stroke-width="1.1" />
<text x="0" y="0" font-size="31.2" text-anchor="end" fill="#1c1c1c" font-weight="bold" font-family="Liberation Serif" stroke="#1c1c1c" stroke-width="0.88" transform="translate(254 148.24) scale(0.25)" >0.5</text>
<line x1="256.3" y1="119.47" x2="259.3" y2="119.47" stroke="#1c1c1c" stroke-width="1.1" />
<text x="0" y="0" font-size="31.2" text-anchor="end" fill="#1c1c1c" font-weight="bold" font-family="Liberation Serif" stroke="#1c1c1c" stroke-width="0.88" transform="translate(254 122.12) scale(0.25)" >1.0</text>
<line x1="256.3" y1="93.35" x2="259.3" y2="93.35" stroke="#1c1c1c" stroke-width="1.1" />
<text x="0" y="0" font-size="31.2" text-anchor="end" fill="#1c1c1c" font-weight="bold" font-family="Liberation Serif" stroke="#1c1c1c" stroke-width="0.88" transform="translate(254 96) scale(0.25)" >1.5</text>
<line x1="256.3" y1="67.23" x2="259.3" y2="67.23" stroke="#1c1c1c" stroke-width="1.1" />
<text x="0" y="0" font-size="31.2" text-anchor="end" fill="#1c1c1c" font-weight="bold" font-family="Liberation Serif" stroke="#1c1c1c" stroke-width="0.88" transform="translate(254 69.89) scale(0.25)" >2.0</text>
<line x1="256.3" y1="41.12" x2="259.3" y2="41.12" stroke="#1c1c1c" stroke-width="1.1" />
<text x="0" y="0" font-size="31.2" text-anchor="end" fill="#1c1c1c" font-weight="bold" font-family="Liberation Serif" stroke="#1c1c1c" stroke-width="0.88" transform="translate(254 43.77) scale(0.25)" >2.5</text>
<line x1="256.3" y1="15" x2="259.3" y2="15" stroke="#1c1c1c" stroke-width="1.1" />
<text x="0" y="0" font-size="31.2" text-anchor="end" fill="#1c1c1c" font-weight="bold" font-family="Liberation Serif" stroke="#1c1c1c" stroke-width="0.88" transform="translate(254 17.65) scale(0.25)" >3.0</text>
<line x1="257.8" y1="158.64" x2="259.3" y2="158.64" stroke="#1c1c1c" stroke-width="1.1" />
<line x1="257.8" y1="132.52" x2="259.3" y2="132.52" stroke="#1c1c1c" stroke-width="1.1" />
<line x1="257.8" y1="106.41" x2="259.3" y2="106.41" stroke="#1c1c1c" stroke-width="1.1" />
<line x1="257.8" y1="80.29" x2="259.3" y2="80.29" stroke="#1c1c1c" stroke-width="1.1" />
<line x1="257.8" y1="54.17" x2="259.3" y2="54.17" stroke="#1c1c1c" stroke-width="1.1" />
<line x1="257.8" y1="28.06" x2="259.3" y2="28.06" stroke="#1c1c1c" stroke-width="1.1" />
<line x1="259.3" y1="171.7" x2="259.3" y2="174.7" stroke="#1c1c1c" stroke-width="1.1" />
<text x="0" y="0" font-size="31.2" text-anchor="middle" fill="#1c1c1c" font-weight="bold" font-family="Liberation Serif" stroke="#1c1c1c" stroke-width="0.88" transform="translate(259.3 183.65) scale(0.25)" >0</text>
<line x1="291.9" y1="171.7" x2="291.9" y2="174.7" stroke="#1c1c1c" stroke-width="1.1" />
<text x="0" y="0" font-size="31.2" text-anchor="middle" fill="#1c1c1c" font-weight="bold" font-family="Liberation Serif" stroke="#1c1c1c" stroke-width="0.88" transform="translate(291.9 183.65) scale(0.25)" >100</text>
<line x1="324.5" y1="171.7" x2="324.5" y2="174.7" stroke="#1c1c1c" stroke-width="1.1" />
<text x="0" y="0" font-size="31.2" text-anchor="middle" fill="#1c1c1c" font-weight="bold" font-family="Liberation Serif" stroke="#1c1c1c" stroke-width="0.88" transform="translate(324.5 183.65) scale(0.25)" >200</text>
<line x1="357.1" y1="171.7" x2="357.1" y2="174.7" stroke="#1c1c1c" stroke-width="1.1" />
<text x="0" y="0" font-size="31.2" text-anchor="middle" fill="#1c1c1c" font-weight="bold" font-family="Liberation Serif" stroke="#1c1c1c" stroke-width="0.88" transform="translate(357.1 183.65) scale(0.25)" >300</text>
<line x1="389.7" y1="171.7" x2="389.7" y2="174.7" stroke="#1c1c1c" stroke-width="1.1" />
<text x="0" y="0" font-size="31.2" text-anchor="middle" fill="#1c1c1c" font-weight="bold" font-family="Liberation Serif" stroke="#1c1c1c" stroke-width="0.88" transform="translate(389.7 183.65) scale(0.25)" >400</text>
<line x1="422.3" y1="171.7" x2="422.3" y2="174.7" stroke="#1c1c1c" stroke-width="1.1" />
<text x="0" y="0" font-size="31.2" text-anchor="middle" fill="#1c1c1c" font-weight="bold" font-family="Liberation Serif" stroke="#1c1c1c" stroke-width="0.88" transform="translate(422.3 183.65) scale(0.25)" >500</text>
<line x1="454.9" y1="171.7" x2="454.9" y2="174.7" stroke="#1c1c1c" stroke-width="1.1" />
<text x="0" y="0" font-size="31.2" text-anchor="middle" fill="#1c1c1c" font-weight="bold" font-family="Liberation Serif" stroke="#1c1c1c" stroke-width="0.88" transform="translate(454.9 183.65) scale(0.25)" >600</text>
<line x1="275.6" y1="171.7" x2="275.6" y2="173.2" stroke="#1c1c1c" stroke-width="1.1" />
<line x1="308.2" y1="171.7" x2="308.2" y2="173.2" stroke="#1c1c1c" stroke-width="1.1" />
<line x1="340.8" y1="171.7" x2="340.8" y2="173.2" stroke="#1c1c1c" stroke-width="1.1" />
<line x1="373.4" y1="171.7" x2="373.4" y2="173.2" stroke="#1c1c1c" stroke-width="1.1" />
<line x1="406" y1="171.7" x2="406" y2="173.2" stroke="#1c1c1c" stroke-width="1.1" />
<line x1="438.6" y1="171.7" x2="438.6" y2="173.2" stroke="#1c1c1c" stroke-width="1.1" />
<text x="0" y="0" font-size="32.4" text-anchor="middle" fill="#1c1c1c" font-weight="bold" font-family="Liberation Serif" stroke="#1c1c1c" stroke-width="0.88" transform="translate(357.1 191.5) scale(0.25)" >Time (s)</text>
<text x="0" y="0" font-size="32.8" text-anchor="middle" fill="#1c1c1c" font-weight="bold" font-family="Liberation Serif" stroke="#1c1c1c" stroke-width="0.88" transform="translate(241 92.8) rotate(-90) scale(0.25)" >Potential (V <tspan font-style="italic">vs.</tspan> Zn/Zn<tspan baseline-shift="13.12" font-size="21.64">2+</tspan>)</text>
<rect x="457.1" y="0" width="228" height="190" fill="#fff"/>
<text x="0" y="0" font-size="78" text-anchor="middle" fill="#111" font-weight="normal" font-family="Liberation Serif" transform="translate(464.9 13.8) scale(0.25)" stroke="#111" stroke-width="2.2">c</text>
<path d="M488,63.5 L488.6,70 L489.5,74.5 L490.6,76.3 L495,76.6 L514.4,77.7 L514.8,89.1 L517.5,88.3 L519,88.9 L541.3,90.2 L541.6,105.8 L543.7,105.5 L555,107.5 L568.4,109.4 L568.6,127.1 L575,127.8 L595.9,128.4 L596.1,136.8 L622.2,137.2 L622.4,144.1 L649.3,144.8 L649.5,151.3 L676.4,151.3" fill="none" stroke="#b0306c" stroke-width="1.3" stroke-linejoin="round" stroke-linecap="round" />
<rect x="488" y="15.7" width="188.4" height="151.4" fill="none" stroke="#1c1c1c" stroke-width="1.3"/>
<line x1="485" y1="167.1" x2="488" y2="167.1" stroke="#1c1c1c" stroke-width="1.1" />
<text x="0" y="0" font-size="29.2" text-anchor="end" fill="#1c1c1c" font-weight="bold" font-family="Liberation Serif" stroke="#1c1c1c" stroke-width="0.88" transform="translate(483 169.58) scale(0.25)" >-0.2</text>
<line x1="485" y1="153.34" x2="488" y2="153.34" stroke="#1c1c1c" stroke-width="1.1" />
<text x="0" y="0" font-size="29.2" text-anchor="end" fill="#1c1c1c" font-weight="bold" font-family="Liberation Serif" stroke="#1c1c1c" stroke-width="0.88" transform="translate(483 155.82) scale(0.25)" >0.0</text>
<line x1="485" y1="139.57" x2="488" y2="139.57" stroke="#1c1c1c" stroke-width="1.1" />
<text x="0" y="0" font-size="29.2" text-anchor="end" fill="#1c1c1c" font-weight="bold" font-family="Liberation Serif" stroke="#1c1c1c" stroke-width="0.88" transform="translate(483 142.05) scale(0.25)" >0.2</text>
<line x1="485" y1="125.81" x2="488" y2="125.81" stroke="#1c1c1c" stroke-width="1.1" />
<text x="0" y="0" font-size="29.2" text-anchor="end" fill="#1c1c1c" font-weight="bold" font-family="Liberation Serif" stroke="#1c1c1c" stroke-width="0.88" transform="translate(483 128.29) scale(0.25)" >0.4</text>
<line x1="485" y1="112.05" x2="488" y2="112.05" stroke="#1c1c1c" stroke-width="1.1" />
<text x="0" y="0" font-size="29.2" text-anchor="end" fill="#1c1c1c" font-weight="bold" font-family="Liberation Serif" stroke="#1c1c1c" stroke-width="0.88" transform="translate(483 114.53) scale(0.25)" >0.6</text>
<line x1="485" y1="98.28" x2="488" y2="98.28" stroke="#1c1c1c" stroke-width="1.1" />
<text x="0" y="0" font-size="29.2" text-anchor="end" fill="#1c1c1c" font-weight="bold" font-family="Liberation Serif" stroke="#1c1c1c" stroke-width="0.88" transform="translate(483 100.76) scale(0.25)" >0.8</text>
<line x1="485" y1="84.52" x2="488" y2="84.52" stroke="#1c1c1c" stroke-width="1.1" />
<text x="0" y="0" font-size="29.2" text-anchor="end" fill="#1c1c1c" font-weight="bold" font-family="Liberation Serif" stroke="#1c1c1c" stroke-width="0.88" transform="translate(483 87) scale(0.25)" >1.0</text>
<line x1="485" y1="70.75" x2="488" y2="70.75" stroke="#1c1c1c" stroke-width="1.1" />
<text x="0" y="0" font-size="29.2" text-anchor="end" fill="#1c1c1c" font-weight="bold" font-family="Liberation Serif" stroke="#1c1c1c" stroke-width="0.88" transform="translate(483 73.24) scale(0.25)" >1.2</text>
<line x1="485" y1="56.99" x2="488" y2="56.99" stroke="#1c1c1c" stroke-width="1.1" />
<text x="0" y="0" font-size="29.2" text-anchor="end" fill="#1c1c1c" font-weight="bold" font-family="Liberation Serif" stroke="#1c1c1c" stroke-width="0.88" transform="translate(483 59.47) scale(0.25)" >1.4</text>
<line x1="485" y1="43.23" x2="488" y2="43.23" stroke="#1c1c1c" stroke-width="1.1" />
<text x="0" y="0" font-size="29.2" text-anchor="end" fill="#1c1c1c" font-weight="bold" font-family="Liberation Serif" stroke="#1c1c1c" stroke-width="0.88" transform="translate(483 45.71) scale(0.25)" >1.6</text>
<line x1="485" y1="29.46" x2="488" y2="29.46" stroke="#1c1c1c" stroke-width="1.1" />
<text x="0" y="0" font-size="29.2" text-anchor="end" fill="#1c1c1c" font-weight="bold" font-family="Liberation Serif" stroke="#1c1c1c" stroke-width="0.88" transform="translate(483 31.95) scale(0.25)" >1.8</text>
<line x1="485" y1="15.7" x2="488" y2="15.7" stroke="#1c1c1c" stroke-width="1.1" />
<text x="0" y="0" font-size="29.2" text-anchor="end" fill="#1c1c1c" font-weight="bold" font-family="Liberation Serif" stroke="#1c1c1c" stroke-width="0.88" transform="translate(483 18.18) scale(0.25)" >2.0</text>
<line x1="486.5" y1="160.22" x2="488" y2="160.22" stroke="#1c1c1c" stroke-width="1.1" />
<line x1="486.5" y1="146.45" x2="488" y2="146.45" stroke="#1c1c1c" stroke-width="1.1" />
<line x1="486.5" y1="132.69" x2="488" y2="132.69" stroke="#1c1c1c" stroke-width="1.1" />
<line x1="486.5" y1="118.93" x2="488" y2="118.93" stroke="#1c1c1c" stroke-width="1.1" />
<line x1="486.5" y1="105.16" x2="488" y2="105.16" stroke="#1c1c1c" stroke-width="1.1" />
<line x1="486.5" y1="91.4" x2="488" y2="91.4" stroke="#1c1c1c" stroke-width="1.1" />
<line x1="486.5" y1="77.64" x2="488" y2="77.64" stroke="#1c1c1c" stroke-width="1.1" />
<line x1="486.5" y1="63.87" x2="488" y2="63.87" stroke="#1c1c1c" stroke-width="1.1" />
<line x1="486.5" y1="50.11" x2="488" y2="50.11" stroke="#1c1c1c" stroke-width="1.1" />
<line x1="486.5" y1="36.35" x2="488" y2="36.35" stroke="#1c1c1c" stroke-width="1.1" />
<line x1="486.5" y1="22.58" x2="488" y2="22.58" stroke="#1c1c1c" stroke-width="1.1" />
<line x1="488" y1="167.1" x2="488" y2="170.1" stroke="#1c1c1c" stroke-width="1.1" />
<text x="0" y="0" font-size="29.2" text-anchor="middle" fill="#1c1c1c" font-weight="bold" font-family="Liberation Serif" stroke="#1c1c1c" stroke-width="0.88" transform="translate(488 178.48) scale(0.25)" >0</text>
<line x1="514.91" y1="167.1" x2="514.91" y2="170.1" stroke="#1c1c1c" stroke-width="1.1" />
<text x="0" y="0" font-size="29.2" text-anchor="middle" fill="#1c1c1c" font-weight="bold" font-family="Liberation Serif" stroke="#1c1c1c" stroke-width="0.88" transform="translate(514.91 178.48) scale(0.25)" >1</text>
<line x1="541.83" y1="167.1" x2="541.83" y2="170.1" stroke="#1c1c1c" stroke-width="1.1" />
<text x="0" y="0" font-size="29.2" text-anchor="middle" fill="#1c1c1c" font-weight="bold" font-family="Liberation Serif" stroke="#1c1c1c" stroke-width="0.88" transform="translate(541.83 178.48) scale(0.25)" >2</text>
<line x1="568.74" y1="167.1" x2="568.74" y2="170.1" stroke="#1c1c1c" stroke-width="1.1" />
<text x="0" y="0" font-size="29.2" text-anchor="middle" fill="#1c1c1c" font-weight="bold" font-family="Liberation Serif" stroke="#1c1c1c" stroke-width="0.88" transform="translate(568.74 178.48) scale(0.25)" >3</text>
<line x1="595.66" y1="167.1" x2="595.66" y2="170.1" stroke="#1c1c1c" stroke-width="1.1" />
<text x="0" y="0" font-size="29.2" text-anchor="middle" fill="#1c1c1c" font-weight="bold" font-family="Liberation Serif" stroke="#1c1c1c" stroke-width="0.88" transform="translate(595.66 178.48) scale(0.25)" >4</text>
<line x1="622.57" y1="167.1" x2="622.57" y2="170.1" stroke="#1c1c1c" stroke-width="1.1" />
<text x="0" y="0" font-size="29.2" text-anchor="middle" fill="#1c1c1c" font-weight="bold" font-family="Liberation Serif" stroke="#1c1c1c" stroke-width="0.88" transform="translate(622.57 178.48) scale(0.25)" >5</text>
<line x1="649.49" y1="167.1" x2="649.49" y2="170.1" stroke="#1c1c1c" stroke-width="1.1" />
<text x="0" y="0" font-size="29.2" text-anchor="middle" fill="#1c1c1c" font-weight="bold" font-family="Liberation Serif" stroke="#1c1c1c" stroke-width="0.88" transform="translate(649.49 178.48) scale(0.25)" >6</text>
<line x1="676.4" y1="167.1" x2="676.4" y2="170.1" stroke="#1c1c1c" stroke-width="1.1" />
<text x="0" y="0" font-size="29.2" text-anchor="middle" fill="#1c1c1c" font-weight="bold" font-family="Liberation Serif" stroke="#1c1c1c" stroke-width="0.88" transform="translate(676.4 178.48) scale(0.25)" >7</text>
<line x1="501.46" y1="167.1" x2="501.46" y2="168.6" stroke="#1c1c1c" stroke-width="1.1" />
<line x1="528.37" y1="167.1" x2="528.37" y2="168.6" stroke="#1c1c1c" stroke-width="1.1" />
<line x1="555.29" y1="167.1" x2="555.29" y2="168.6" stroke="#1c1c1c" stroke-width="1.1" />
<line x1="582.2" y1="167.1" x2="582.2" y2="168.6" stroke="#1c1c1c" stroke-width="1.1" />
<line x1="609.11" y1="167.1" x2="609.11" y2="168.6" stroke="#1c1c1c" stroke-width="1.1" />
<line x1="636.03" y1="167.1" x2="636.03" y2="168.6" stroke="#1c1c1c" stroke-width="1.1" />
<line x1="662.94" y1="167.1" x2="662.94" y2="168.6" stroke="#1c1c1c" stroke-width="1.1" />
<text x="0" y="0" font-size="31.6" text-anchor="middle" fill="#1c1c1c" font-weight="bold" font-family="Liberation Serif" stroke="#1c1c1c" stroke-width="0.88" transform="translate(580.9 186.6) scale(0.25)" >Time (h)</text>
<text x="0" y="0" font-size="31.2" text-anchor="middle" fill="#1c1c1c" font-weight="bold" font-family="Liberation Serif" stroke="#1c1c1c" stroke-width="0.88" transform="translate(469 95.6) rotate(-90) scale(0.25)" >Potential (V <tspan font-style="italic">vs.</tspan> Zn/Zn<tspan baseline-shift="12.48" font-size="20.6">2+</tspan>)</text>
<text x="0" y="0" font-size="29.6" text-anchor="middle" fill="#1c1c1c" font-weight="bold" font-family="Liberation Serif" stroke="#1c1c1c" stroke-width="0.88" transform="translate(504.2 52.3) rotate(-90) scale(0.25)" >0.2 mA cm<tspan baseline-shift="11.84" font-size="19.52">-2</tspan></text>
<text x="0" y="0" font-size="31.8" text-anchor="middle" fill="#1c1c1c" font-weight="bold" font-family="Liberation Serif" stroke="#1c1c1c" stroke-width="0.88" transform="translate(531 63.45) rotate(-90) scale(0.25)" >0.5 mA cm<tspan baseline-shift="12.72" font-size="21">-2</tspan></text>
<text x="0" y="0" font-size="32" text-anchor="middle" fill="#1c1c1c" font-weight="bold" font-family="Liberation Serif" stroke="#1c1c1c" stroke-width="0.88" transform="translate(557.7 85.05) rotate(-90) scale(0.25)" >1 mA cm<tspan baseline-shift="12.8" font-size="21.12">-2</tspan></text>
<text x="0" y="0" font-size="32" text-anchor="middle" fill="#1c1c1c" font-weight="bold" font-family="Liberation Serif" stroke="#1c1c1c" stroke-width="0.88" transform="translate(585.2 106.75) rotate(-90) scale(0.25)" >2 mA cm<tspan baseline-shift="12.8" font-size="21.12">-2</tspan></text>
<text x="0" y="0" font-size="32" text-anchor="middle" fill="#1c1c1c" font-weight="bold" font-family="Liberation Serif" stroke="#1c1c1c" stroke-width="0.88" transform="translate(612.9 115.1) rotate(-90) scale(0.25)" >3 mA cm<tspan baseline-shift="12.8" font-size="21.12">-2</tspan></text>
<text x="0" y="0" font-size="32" text-anchor="middle" fill="#1c1c1c" font-weight="bold" font-family="Liberation Serif" stroke="#1c1c1c" stroke-width="0.88" transform="translate(639.7 123.55) rotate(-90) scale(0.25)" >4 mA cm<tspan baseline-shift="12.8" font-size="21.12">-2</tspan></text>
<text x="0" y="0" font-size="32" text-anchor="middle" fill="#1c1c1c" font-weight="bold" font-family="Liberation Serif" stroke="#1c1c1c" stroke-width="0.88" transform="translate(666.2 130.25) rotate(-90) scale(0.25)" >5 mA cm<tspan baseline-shift="12.8" font-size="21.12">-2</tspan></text>
<text x="0" y="0" font-size="78" text-anchor="middle" fill="#111" font-weight="normal" font-family="Liberation Serif" transform="translate(12.8 197.8) scale(0.25)" >d</text>
<defs><linearGradient id="bar" x1="0" x2="1" y1="0" y2="0">
<stop offset="0" stop-color="#5e1a40"/><stop offset="0.06" stop-color="#6e2550"/>
<stop offset="0.18" stop-color="#a07090"/><stop offset="0.32" stop-color="#e0c8e4"/>
<stop offset="0.49" stop-color="#f5e6f7"/><stop offset="0.67" stop-color="#d8bfd8"/>
<stop offset="0.82" stop-color="#8a5474"/><stop offset="0.93" stop-color="#6e2550"/>
<stop offset="1" stop-color="#5e1a40"/></linearGradient></defs>
<rect x="33.3" y="273.15" width="29.4" height="77.65" fill="url(#bar)"/>
<rect x="69.85" y="255.94" width="29.4" height="94.86" fill="url(#bar)"/>
<rect x="106.4" y="246.71" width="29.4" height="104.09" fill="url(#bar)"/>
<rect x="142.95" y="245.03" width="29.4" height="105.77" fill="url(#bar)"/>
<rect x="179.5" y="221.11" width="29.4" height="129.69" fill="url(#bar)"/>
<line x1="48" y1="268.5" x2="48" y2="277.6" stroke="#222" stroke-width="0.9" />
<line x1="46.5" y1="268.5" x2="49.5" y2="268.5" stroke="#222" stroke-width="0.9" />
<line x1="46.5" y1="277.6" x2="49.5" y2="277.6" stroke="#222" stroke-width="0.9" />
<line x1="84.55" y1="251.2" x2="84.55" y2="260.2" stroke="#222" stroke-width="0.9" />
<line x1="83.05" y1="251.2" x2="86.05" y2="251.2" stroke="#222" stroke-width="0.9" />
<line x1="83.05" y1="260.2" x2="86.05" y2="260.2" stroke="#222" stroke-width="0.9" />
<line x1="121.1" y1="238.1" x2="121.1" y2="250.7" stroke="#222" stroke-width="0.9" />
<line x1="119.6" y1="238.1" x2="122.6" y2="238.1" stroke="#222" stroke-width="0.9" />
<line x1="119.6" y1="250.7" x2="122.6" y2="250.7" stroke="#222" stroke-width="0.9" />
<line x1="157.65" y1="238.1" x2="157.65" y2="256" stroke="#222" stroke-width="0.9" />
<line x1="156.15" y1="238.1" x2="159.15" y2="238.1" stroke="#222" stroke-width="0.9" />
<line x1="156.15" y1="256" x2="159.15" y2="256" stroke="#222" stroke-width="0.9" />
<line x1="194.2" y1="215.9" x2="194.2" y2="226.5" stroke="#222" stroke-width="0.9" />
<line x1="192.7" y1="215.9" x2="195.7" y2="215.9" stroke="#222" stroke-width="0.9" />
<line x1="192.7" y1="226.5" x2="195.7" y2="226.5" stroke="#222" stroke-width="0.9" />
<path d="M48,225.7 L84.55,230.4 L121.1,240.5 L157.65,253.6 L194.2,244" fill="none" stroke="#26695c" stroke-width="1.1" stroke-linejoin="round" stroke-linecap="round" />
<path d="M48,222.7 L48.79,224.61 L50.85,224.77 L49.28,226.12 L49.76,228.13 L48,227.05 L46.24,228.13 L46.72,226.12 L45.15,224.77 L47.21,224.61 Z" fill="#1c4d44" stroke="#26695c" stroke-width="0.6"/>
<path d="M84.55,227.4 L85.34,229.31 L87.4,229.47 L85.83,230.82 L86.31,232.83 L84.55,231.75 L82.79,232.83 L83.27,230.82 L81.7,229.47 L83.76,229.31 Z" fill="#1c4d44" stroke="#26695c" stroke-width="0.6"/>
<path d="M121.1,237.5 L121.89,239.41 L123.95,239.57 L122.38,240.92 L122.86,242.93 L121.1,241.85 L119.34,242.93 L119.82,240.92 L118.25,239.57 L120.31,239.41 Z" fill="#1c4d44" stroke="#26695c" stroke-width="0.6"/>
<path d="M157.65,250.6 L158.44,252.51 L160.5,252.67 L158.93,254.02 L159.41,256.03 L157.65,254.95 L155.89,256.03 L156.37,254.02 L154.8,252.67 L156.86,252.51 Z" fill="#1c4d44" stroke="#26695c" stroke-width="0.6"/>
<path d="M194.2,241 L194.99,242.91 L197.05,243.07 L195.48,244.42 L195.96,246.43 L194.2,245.35 L192.44,246.43 L192.92,244.42 L191.35,243.07 L193.41,242.91 Z" fill="#1c4d44" stroke="#26695c" stroke-width="0.6"/>
<line x1="48" y1="222.7" x2="48" y2="228.7" stroke="#26695c" stroke-width="0.8" />
<line x1="46.7" y1="222.7" x2="49.3" y2="222.7" stroke="#26695c" stroke-width="0.8" />
<line x1="121.1" y1="238" x2="121.1" y2="243" stroke="#26695c" stroke-width="0.8" />
<line x1="119.8" y1="238" x2="122.4" y2="238" stroke="#26695c" stroke-width="0.8" />
<line x1="157.65" y1="251.1" x2="157.65" y2="256.1" stroke="#26695c" stroke-width="0.8" />
<line x1="156.35" y1="251.1" x2="158.95" y2="251.1" stroke="#26695c" stroke-width="0.8" />
<path d="M48.7,270.5 L48.7,263.8 L38,263.8" fill="none" stroke="#7a1f4e" stroke-width="1.1" stroke-linejoin="round" stroke-linecap="round" />
<path d="M34.8,263.8 L40.0,261.4 L40.0,266.2 Z" fill="#7a1f4e"/>
<path d="M194.2,240.5 L194.2,234.8 L204.5,234.8" fill="none" stroke="#26695c" stroke-width="1.1" stroke-linejoin="round" stroke-linecap="round" />
<path d="M207.7,234.8 L202.7,232.5 L202.7,237.1 Z" fill="#26695c"/>
<line x1="29.5" y1="203.9" x2="212.5" y2="203.9" stroke="#3a3a3a" stroke-width="1.3" />
<line x1="29.5" y1="350.8" x2="212.5" y2="350.8" stroke="#2a2a2a" stroke-width="1.3" />
<line x1="29.5" y1="203.9" x2="29.5" y2="350.8" stroke="#7a1f4e" stroke-width="1.3" />
<line x1="212.5" y1="203.9" x2="212.5" y2="350.8" stroke="#26695c" stroke-width="1.3" />
<line x1="26.7" y1="350.8" x2="29.5" y2="350.8" stroke="#7a1f4e" stroke-width="1.1" />
<text x="0" y="0" font-size="29.2" text-anchor="end" fill="#7a1f4e" font-weight="bold" font-family="Liberation Serif" stroke="#7a1f4e" stroke-width="0.88" transform="translate(25 353.28) scale(0.25)" >0</text>
<line x1="26.7" y1="329.81" x2="29.5" y2="329.81" stroke="#7a1f4e" stroke-width="1.1" />
<text x="0" y="0" font-size="29.2" text-anchor="end" fill="#7a1f4e" font-weight="bold" font-family="Liberation Serif" stroke="#7a1f4e" stroke-width="0.88" transform="translate(25 332.3) scale(0.25)" >5</text>
<line x1="26.7" y1="308.83" x2="29.5" y2="308.83" stroke="#7a1f4e" stroke-width="1.1" />
<text x="0" y="0" font-size="29.2" text-anchor="end" fill="#7a1f4e" font-weight="bold" font-family="Liberation Serif" stroke="#7a1f4e" stroke-width="0.88" transform="translate(25 311.31) scale(0.25)" >10</text>
<line x1="26.7" y1="287.84" x2="29.5" y2="287.84" stroke="#7a1f4e" stroke-width="1.1" />
<text x="0" y="0" font-size="29.2" text-anchor="end" fill="#7a1f4e" font-weight="bold" font-family="Liberation Serif" stroke="#7a1f4e" stroke-width="0.88" transform="translate(25 290.32) scale(0.25)" >15</text>
<line x1="26.7" y1="266.86" x2="29.5" y2="266.86" stroke="#7a1f4e" stroke-width="1.1" />
<text x="0" y="0" font-size="29.2" text-anchor="end" fill="#7a1f4e" font-weight="bold" font-family="Liberation Serif" stroke="#7a1f4e" stroke-width="0.88" transform="translate(25 269.34) scale(0.25)" >20</text>
<line x1="26.7" y1="245.87" x2="29.5" y2="245.87" stroke="#7a1f4e" stroke-width="1.1" />
<text x="0" y="0" font-size="29.2" text-anchor="end" fill="#7a1f4e" font-weight="bold" font-family="Liberation Serif" stroke="#7a1f4e" stroke-width="0.88" transform="translate(25 248.35) scale(0.25)" >25</text>
<line x1="26.7" y1="224.89" x2="29.5" y2="224.89" stroke="#7a1f4e" stroke-width="1.1" />
<text x="0" y="0" font-size="29.2" text-anchor="end" fill="#7a1f4e" font-weight="bold" font-family="Liberation Serif" stroke="#7a1f4e" stroke-width="0.88" transform="translate(25 227.37) scale(0.25)" >30</text>
<line x1="26.7" y1="203.9" x2="29.5" y2="203.9" stroke="#7a1f4e" stroke-width="1.1" />
<text x="0" y="0" font-size="29.2" text-anchor="end" fill="#7a1f4e" font-weight="bold" font-family="Liberation Serif" stroke="#7a1f4e" stroke-width="0.88" transform="translate(25 206.38) scale(0.25)" >35</text>
<line x1="28" y1="340.31" x2="29.5" y2="340.31" stroke="#7a1f4e" stroke-width="1.1" />
<line x1="28" y1="319.32" x2="29.5" y2="319.32" stroke="#7a1f4e" stroke-width="1.1" />
<line x1="28" y1="298.34" x2="29.5" y2="298.34" stroke="#7a1f4e" stroke-width="1.1" />
<line x1="28" y1="277.35" x2="29.5" y2="277.35" stroke="#7a1f4e" stroke-width="1.1" />
<line x1="28" y1="256.36" x2="29.5" y2="256.36" stroke="#7a1f4e" stroke-width="1.1" />
<line x1="28" y1="235.38" x2="29.5" y2="235.38" stroke="#7a1f4e" stroke-width="1.1" />
<line x1="28" y1="214.39" x2="29.5" y2="214.39" stroke="#7a1f4e" stroke-width="1.1" />
<line x1="212.5" y1="343.07" x2="215.1" y2="343.07" stroke="#26695c" stroke-width="1.1" />
<text x="0" y="0" font-size="30.4" text-anchor="start" fill="#26695c" font-weight="bold" font-family="Liberation Serif" stroke="#26695c" stroke-width="0.88" transform="translate(217.2 345.65) scale(0.25)" >0</text>
<line x1="212.5" y1="327.61" x2="215.1" y2="327.61" stroke="#26695c" stroke-width="1.1" />
<text x="0" y="0" font-size="30.4" text-anchor="start" fill="#26695c" font-weight="bold" font-family="Liberation Serif" stroke="#26695c" stroke-width="0.88" transform="translate(217.2 330.19) scale(0.25)" >10</text>
<line x1="212.5" y1="312.14" x2="215.1" y2="312.14" stroke="#26695c" stroke-width="1.1" />
<text x="0" y="0" font-size="30.4" text-anchor="start" fill="#26695c" font-weight="bold" font-family="Liberation Serif" stroke="#26695c" stroke-width="0.88" transform="translate(217.2 314.73) scale(0.25)" >20</text>
<line x1="212.5" y1="296.68" x2="215.1" y2="296.68" stroke="#26695c" stroke-width="1.1" />
<text x="0" y="0" font-size="30.4" text-anchor="start" fill="#26695c" font-weight="bold" font-family="Liberation Serif" stroke="#26695c" stroke-width="0.88" transform="translate(217.2 299.26) scale(0.25)" >30</text>
<line x1="212.5" y1="281.22" x2="215.1" y2="281.22" stroke="#26695c" stroke-width="1.1" />
<text x="0" y="0" font-size="30.4" text-anchor="start" fill="#26695c" font-weight="bold" font-family="Liberation Serif" stroke="#26695c" stroke-width="0.88" transform="translate(217.2 283.8) scale(0.25)" >40</text>
<line x1="212.5" y1="265.75" x2="215.1" y2="265.75" stroke="#26695c" stroke-width="1.1" />
<text x="0" y="0" font-size="30.4" text-anchor="start" fill="#26695c" font-weight="bold" font-family="Liberation Serif" stroke="#26695c" stroke-width="0.88" transform="translate(217.2 268.34) scale(0.25)" >50</text>
<line x1="212.5" y1="250.29" x2="215.1" y2="250.29" stroke="#26695c" stroke-width="1.1" />
<text x="0" y="0" font-size="30.4" text-anchor="start" fill="#26695c" font-weight="bold" font-family="Liberation Serif" stroke="#26695c" stroke-width="0.88" transform="translate(217.2 252.87) scale(0.25)" >60</text>
<line x1="212.5" y1="234.83" x2="215.1" y2="234.83" stroke="#26695c" stroke-width="1.1" />
<text x="0" y="0" font-size="30.4" text-anchor="start" fill="#26695c" font-weight="bold" font-family="Liberation Serif" stroke="#26695c" stroke-width="0.88" transform="translate(217.2 237.41) scale(0.25)" >70</text>
<line x1="212.5" y1="219.36" x2="215.1" y2="219.36" stroke="#26695c" stroke-width="1.1" />
<text x="0" y="0" font-size="30.4" text-anchor="start" fill="#26695c" font-weight="bold" font-family="Liberation Serif" stroke="#26695c" stroke-width="0.88" transform="translate(217.2 221.95) scale(0.25)" >80</text>
<line x1="212.5" y1="203.9" x2="215.1" y2="203.9" stroke="#26695c" stroke-width="1.1" />
<text x="0" y="0" font-size="30.4" text-anchor="start" fill="#26695c" font-weight="bold" font-family="Liberation Serif" stroke="#26695c" stroke-width="0.88" transform="translate(217.2 206.48) scale(0.25)" >90</text>
<line x1="212.5" y1="350.8" x2="214" y2="350.8" stroke="#26695c" stroke-width="1.1" />
<line x1="212.5" y1="335.34" x2="214" y2="335.34" stroke="#26695c" stroke-width="1.1" />
<line x1="212.5" y1="319.87" x2="214" y2="319.87" stroke="#26695c" stroke-width="1.1" />
<line x1="212.5" y1="304.41" x2="214" y2="304.41" stroke="#26695c" stroke-width="1.1" />
<line x1="212.5" y1="288.95" x2="214" y2="288.95" stroke="#26695c" stroke-width="1.1" />
<line x1="212.5" y1="273.48" x2="214" y2="273.48" stroke="#26695c" stroke-width="1.1" />
<line x1="212.5" y1="258.02" x2="214" y2="258.02" stroke="#26695c" stroke-width="1.1" />
<line x1="212.5" y1="242.56" x2="214" y2="242.56" stroke="#26695c" stroke-width="1.1" />
<line x1="212.5" y1="227.09" x2="214" y2="227.09" stroke="#26695c" stroke-width="1.1" />
<line x1="212.5" y1="211.63" x2="214" y2="211.63" stroke="#26695c" stroke-width="1.1" />
<line x1="48" y1="350.8" x2="48" y2="353.8" stroke="#2a2a2a" stroke-width="1.1" />
<text x="0" y="0" font-size="29.2" text-anchor="middle" fill="#2a2a2a" font-weight="bold" font-family="Liberation Serif" stroke="#2a2a2a" stroke-width="0.88" transform="translate(48 361.78) scale(0.25)" >4</text>
<line x1="84.55" y1="350.8" x2="84.55" y2="353.8" stroke="#2a2a2a" stroke-width="1.1" />
<text x="0" y="0" font-size="29.2" text-anchor="middle" fill="#2a2a2a" font-weight="bold" font-family="Liberation Serif" stroke="#2a2a2a" stroke-width="0.88" transform="translate(84.55 361.78) scale(0.25)" >5</text>
<line x1="121.1" y1="350.8" x2="121.1" y2="353.8" stroke="#2a2a2a" stroke-width="1.1" />
<text x="0" y="0" font-size="29.2" text-anchor="middle" fill="#2a2a2a" font-weight="bold" font-family="Liberation Serif" stroke="#2a2a2a" stroke-width="0.88" transform="translate(121.1 361.78) scale(0.25)" >6</text>
<line x1="157.65" y1="350.8" x2="157.65" y2="353.8" stroke="#2a2a2a" stroke-width="1.1" />
<text x="0" y="0" font-size="29.2" text-anchor="middle" fill="#2a2a2a" font-weight="bold" font-family="Liberation Serif" stroke="#2a2a2a" stroke-width="0.88" transform="translate(157.65 361.78) scale(0.25)" >7</text>
<line x1="194.2" y1="350.8" x2="194.2" y2="353.8" stroke="#2a2a2a" stroke-width="1.1" />
<text x="0" y="0" font-size="29.2" text-anchor="middle" fill="#2a2a2a" font-weight="bold" font-family="Liberation Serif" stroke="#2a2a2a" stroke-width="0.88" transform="translate(194.2 361.78) scale(0.25)" >8</text>
<line x1="66.28" y1="350.8" x2="66.28" y2="352.3" stroke="#2a2a2a" stroke-width="1.1" />
<line x1="102.82" y1="350.8" x2="102.82" y2="352.3" stroke="#2a2a2a" stroke-width="1.1" />
<line x1="139.38" y1="350.8" x2="139.38" y2="352.3" stroke="#2a2a2a" stroke-width="1.1" />
<line x1="175.92" y1="350.8" x2="175.92" y2="352.3" stroke="#2a2a2a" stroke-width="1.1" />
<text x="0" y="0" font-size="31.6" text-anchor="middle" fill="#1c1c1c" font-weight="bold" font-family="Liberation Serif" stroke="#1c1c1c" stroke-width="0.88" transform="translate(120.4 370.6) scale(0.25)" >Current density (mA cm<tspan baseline-shift="12.64" font-size="20.84">-2</tspan>)</text>
<text x="0" y="0" font-size="31" text-anchor="middle" fill="#7a1f4e" font-weight="bold" font-family="Liberation Serif" stroke="#7a1f4e" stroke-width="0.88" transform="translate(13.6 276.9) rotate(-90) scale(0.25)" >NH<tspan baseline-shift="-4.96" font-size="20.48">3</tspan> yield rate (μmol h<tspan baseline-shift="12.4" font-size="20.48">-1</tspan> cm<tspan baseline-shift="12.4" font-size="20.48">-2</tspan>)</text>
<text x="0" y="0" font-size="30.4" text-anchor="middle" fill="#26695c" font-weight="bold" font-family="Liberation Serif" stroke="#26695c" stroke-width="0.88" transform="translate(233.6 275.8) rotate(-90) scale(0.25)" >FE<tspan baseline-shift="-4.88" font-size="20.08">NH3</tspan> (%)</text>
<text x="0" y="0" font-size="78" text-anchor="middle" fill="#111" font-weight="normal" font-family="Liberation Serif" transform="translate(243.5 201.5) scale(0.25)" >e</text>
<rect x="267.6" y="198.2" width="192.6" height="154.8" fill="none" stroke="#1c1c1c" stroke-width="1.3"/>
<path d="M268.3,306.1 L268.3,226.1 C268.3,225 269,224.1 270.3,224.1 L297.23,224" fill="none" stroke="#c27d3e" stroke-width="1.3" stroke-linejoin="round" stroke-linecap="round" />
<path d="M268.3,312.8 L268.3,224.1 C268.3,222.45 269.35,221.1 271.3,221.1 L326.86,220.9" fill="none" stroke="#8f9b35" stroke-width="1.3" stroke-linejoin="round" stroke-linecap="round" />
<path d="M268.3,317.8 L268.3,222.9 C268.3,220.43 269.7,218.4 272.3,218.4 L356.49,218.1" fill="none" stroke="#c5d230" stroke-width="1.3" stroke-linejoin="round" stroke-linecap="round" />
<path d="M268.3,322.1 L268.3,222.5 C268.3,218.93 270.23,216 273.8,216 L386.12,215.6" fill="none" stroke="#8a8a8a" stroke-width="1.3" stroke-linejoin="round" stroke-linecap="round" />
<path d="M268.3,326.6 L268.3,222.3 C268.3,217.35 270.93,213.3 275.8,213.3 L415.75,212.3" fill="none" stroke="#c0312f" stroke-width="1.3" stroke-linejoin="round" stroke-linecap="round" />
<path d="M268.3,330.4 L268.3,224.1 C268.3,216.95 271.45,211.1 277.3,211.1 L445.38,209.3" fill="none" stroke="#4672ac" stroke-width="1.3" stroke-linejoin="round" stroke-linecap="round" />
<path d="M268.3,261.25 L269.2,306.6 C269.2,307.43 269.72,308.1 270.7,308.1 L297.23,308.2" fill="none" stroke="#c27d3e" stroke-width="1.3" stroke-linejoin="round" stroke-linecap="round" />
<path d="M268.3,261.25 L269.2,312.3 C269.2,313.68 270.07,314.8 271.7,314.8 L326.86,314.9" fill="none" stroke="#8f9b35" stroke-width="1.3" stroke-linejoin="round" stroke-linecap="round" />
<path d="M268.3,261.25 L269.2,316.3 C269.2,318.23 270.25,319.8 272.2,319.8 L356.49,319.9" fill="none" stroke="#c5d230" stroke-width="1.3" stroke-linejoin="round" stroke-linecap="round" />
<path d="M268.3,261.25 L269.2,319.6 C269.2,322.08 270.6,324.1 273.2,324.1 L386.12,324.2" fill="none" stroke="#8a8a8a" stroke-width="1.3" stroke-linejoin="round" stroke-linecap="round" />
<path d="M268.3,261.25 L269.2,322.1 C269.2,326.28 270.95,329.2 274.2,329.2 C281.7,329.2 300,328.96 320,328.87 L415.75,328.3" fill="none" stroke="#c0312f" stroke-width="1.3" stroke-linejoin="round" stroke-linecap="round" />
<path d="M268.3,261.25 L269.2,321.4 C269.2,329.05 271.65,334 276.2,334 C286.7,334 300,333.36 320,333.12 L445.38,332.1" fill="none" stroke="#4672ac" stroke-width="1.3" stroke-linejoin="round" stroke-linecap="round" />
<line x1="264.8" y1="338.93" x2="267.6" y2="338.93" stroke="#1c1c1c" stroke-width="1.1" />
<text x="0" y="0" font-size="31.2" text-anchor="end" fill="#1c1c1c" font-weight="bold" font-family="Liberation Serif" stroke="#1c1c1c" stroke-width="0.88" transform="translate(262.2 341.58) scale(0.25)" >0.0</text>
<line x1="264.8" y1="310.78" x2="267.6" y2="310.78" stroke="#1c1c1c" stroke-width="1.1" />
<text x="0" y="0" font-size="31.2" text-anchor="end" fill="#1c1c1c" font-weight="bold" font-family="Liberation Serif" stroke="#1c1c1c" stroke-width="0.88" transform="translate(262.2 313.43) scale(0.25)" >0.5</text>
<line x1="264.8" y1="282.64" x2="267.6" y2="282.64" stroke="#1c1c1c" stroke-width="1.1" />
<text x="0" y="0" font-size="31.2" text-anchor="end" fill="#1c1c1c" font-weight="bold" font-family="Liberation Serif" stroke="#1c1c1c" stroke-width="0.88" transform="translate(262.2 285.29) scale(0.25)" >1.0</text>
<line x1="264.8" y1="254.49" x2="267.6" y2="254.49" stroke="#1c1c1c" stroke-width="1.1" />
<text x="0" y="0" font-size="31.2" text-anchor="end" fill="#1c1c1c" font-weight="bold" font-family="Liberation Serif" stroke="#1c1c1c" stroke-width="0.88" transform="translate(262.2 257.14) scale(0.25)" >1.5</text>
<line x1="264.8" y1="226.35" x2="267.6" y2="226.35" stroke="#1c1c1c" stroke-width="1.1" />
<text x="0" y="0" font-size="31.2" text-anchor="end" fill="#1c1c1c" font-weight="bold" font-family="Liberation Serif" stroke="#1c1c1c" stroke-width="0.88" transform="translate(262.2 229) scale(0.25)" >2.0</text>
<line x1="264.8" y1="198.2" x2="267.6" y2="198.2" stroke="#1c1c1c" stroke-width="1.1" />
<text x="0" y="0" font-size="31.2" text-anchor="end" fill="#1c1c1c" font-weight="bold" font-family="Liberation Serif" stroke="#1c1c1c" stroke-width="0.88" transform="translate(262.2 200.85) scale(0.25)" >2.5</text>
<line x1="266.1" y1="353" x2="267.6" y2="353" stroke="#1c1c1c" stroke-width="1.1" />
<line x1="266.1" y1="324.85" x2="267.6" y2="324.85" stroke="#1c1c1c" stroke-width="1.1" />
<line x1="266.1" y1="296.71" x2="267.6" y2="296.71" stroke="#1c1c1c" stroke-width="1.1" />
<line x1="266.1" y1="268.56" x2="267.6" y2="268.56" stroke="#1c1c1c" stroke-width="1.1" />
<line x1="266.1" y1="240.42" x2="267.6" y2="240.42" stroke="#1c1c1c" stroke-width="1.1" />
<line x1="266.1" y1="212.27" x2="267.6" y2="212.27" stroke="#1c1c1c" stroke-width="1.1" />
<line x1="267.6" y1="353" x2="267.6" y2="355.8" stroke="#1c1c1c" stroke-width="1.1" />
<text x="0" y="0" font-size="31.2" text-anchor="middle" fill="#1c1c1c" font-weight="bold" font-family="Liberation Serif" stroke="#1c1c1c" stroke-width="0.88" transform="translate(267.6 364.45) scale(0.25)" >0.0</text>
<line x1="297.23" y1="353" x2="297.23" y2="355.8" stroke="#1c1c1c" stroke-width="1.1" />
<text x="0" y="0" font-size="31.2" text-anchor="middle" fill="#1c1c1c" font-weight="bold" font-family="Liberation Serif" stroke="#1c1c1c" stroke-width="0.88" transform="translate(297.23 364.45) scale(0.25)" >0.5</text>
<line x1="326.86" y1="353" x2="326.86" y2="355.8" stroke="#1c1c1c" stroke-width="1.1" />
<text x="0" y="0" font-size="31.2" text-anchor="middle" fill="#1c1c1c" font-weight="bold" font-family="Liberation Serif" stroke="#1c1c1c" stroke-width="0.88" transform="translate(326.86 364.45) scale(0.25)" >1.0</text>
<line x1="356.49" y1="353" x2="356.49" y2="355.8" stroke="#1c1c1c" stroke-width="1.1" />
<text x="0" y="0" font-size="31.2" text-anchor="middle" fill="#1c1c1c" font-weight="bold" font-family="Liberation Serif" stroke="#1c1c1c" stroke-width="0.88" transform="translate(356.49 364.45) scale(0.25)" >1.5</text>
<line x1="386.12" y1="353" x2="386.12" y2="355.8" stroke="#1c1c1c" stroke-width="1.1" />
<text x="0" y="0" font-size="31.2" text-anchor="middle" fill="#1c1c1c" font-weight="bold" font-family="Liberation Serif" stroke="#1c1c1c" stroke-width="0.88" transform="translate(386.12 364.45) scale(0.25)" >2.0</text>
<line x1="415.75" y1="353" x2="415.75" y2="355.8" stroke="#1c1c1c" stroke-width="1.1" />
<text x="0" y="0" font-size="31.2" text-anchor="middle" fill="#1c1c1c" font-weight="bold" font-family="Liberation Serif" stroke="#1c1c1c" stroke-width="0.88" transform="translate(415.75 364.45) scale(0.25)" >2.5</text>
<line x1="445.38" y1="353" x2="445.38" y2="355.8" stroke="#1c1c1c" stroke-width="1.1" />
<text x="0" y="0" font-size="31.2" text-anchor="middle" fill="#1c1c1c" font-weight="bold" font-family="Liberation Serif" stroke="#1c1c1c" stroke-width="0.88" transform="translate(445.38 364.45) scale(0.25)" >3.0</text>
<line x1="282.42" y1="353" x2="282.42" y2="354.5" stroke="#1c1c1c" stroke-width="1.1" />
<line x1="312.05" y1="353" x2="312.05" y2="354.5" stroke="#1c1c1c" stroke-width="1.1" />
<line x1="341.68" y1="353" x2="341.68" y2="354.5" stroke="#1c1c1c" stroke-width="1.1" />
<line x1="371.31" y1="353" x2="371.31" y2="354.5" stroke="#1c1c1c" stroke-width="1.1" />
<line x1="400.94" y1="353" x2="400.94" y2="354.5" stroke="#1c1c1c" stroke-width="1.1" />
<line x1="430.57" y1="353" x2="430.57" y2="354.5" stroke="#1c1c1c" stroke-width="1.1" />
<line x1="460.2" y1="353" x2="460.2" y2="354.5" stroke="#1c1c1c" stroke-width="1.1" />
<text x="0" y="0" font-size="32.8" text-anchor="middle" fill="#1c1c1c" font-weight="bold" font-family="Liberation Serif" stroke="#1c1c1c" stroke-width="0.88" transform="translate(360 375.3) scale(0.25)" >Capacity (mAh cm<tspan baseline-shift="13.12" font-size="21.64">-2</tspan>)</text>
<text x="0" y="0" font-size="32.4" text-anchor="middle" fill="#1c1c1c" font-weight="bold" font-family="Liberation Serif" stroke="#1c1c1c" stroke-width="0.88" transform="translate(248.3 271) rotate(-90) scale(0.25)" >Potential (V <tspan font-style="italic">vs.</tspan> Zn/Zn<tspan baseline-shift="12.96" font-size="21.4">2+</tspan>)</text>
<line x1="389.5" y1="241" x2="407.9" y2="241" stroke="#c27d3e" stroke-width="1.5" />
<text x="0" y="0" font-size="31.6" text-anchor="start" fill="#1c1c1c" font-weight="bold" font-family="Liberation Serif" stroke="#1c1c1c" stroke-width="0.88" transform="translate(409.6 243.69) scale(0.25)" >0.5 mA cm<tspan baseline-shift="12.64" font-size="20.84">-2</tspan></text>
<line x1="389.5" y1="252.22" x2="407.9" y2="252.22" stroke="#8f9b35" stroke-width="1.5" />
<text x="0" y="0" font-size="31.6" text-anchor="start" fill="#1c1c1c" font-weight="bold" font-family="Liberation Serif" stroke="#1c1c1c" stroke-width="0.88" transform="translate(409.6 254.91) scale(0.25)" >1.0 mA cm<tspan baseline-shift="12.64" font-size="20.84">-2</tspan></text>
<line x1="389.5" y1="263.44" x2="407.9" y2="263.44" stroke="#c5d230" stroke-width="1.5" />
<text x="0" y="0" font-size="31.6" text-anchor="start" fill="#1c1c1c" font-weight="bold" font-family="Liberation Serif" stroke="#1c1c1c" stroke-width="0.88" transform="translate(409.6 266.13) scale(0.25)" >1.5 mA cm<tspan baseline-shift="12.64" font-size="20.84">-2</tspan></text>
<line x1="389.5" y1="274.66" x2="407.9" y2="274.66" stroke="#8a8a8a" stroke-width="1.5" />
<text x="0" y="0" font-size="31.6" text-anchor="start" fill="#1c1c1c" font-weight="bold" font-family="Liberation Serif" stroke="#1c1c1c" stroke-width="0.88" transform="translate(409.6 277.35) scale(0.25)" >2.0 mA cm<tspan baseline-shift="12.64" font-size="20.84">-2</tspan></text>
<line x1="389.5" y1="285.88" x2="407.9" y2="285.88" stroke="#c0312f" stroke-width="1.5" />
<text x="0" y="0" font-size="31.6" text-anchor="start" fill="#1c1c1c" font-weight="bold" font-family="Liberation Serif" stroke="#1c1c1c" stroke-width="0.88" transform="translate(409.6 288.57) scale(0.25)" >2.5 mA cm<tspan baseline-shift="12.64" font-size="20.84">-2</tspan></text>
<line x1="389.5" y1="297.1" x2="407.9" y2="297.1" stroke="#4672ac" stroke-width="1.5" />
<text x="0" y="0" font-size="31.6" text-anchor="start" fill="#1c1c1c" font-weight="bold" font-family="Liberation Serif" stroke="#1c1c1c" stroke-width="0.88" transform="translate(409.6 299.79) scale(0.25)" >3.0 mA cm<tspan baseline-shift="12.64" font-size="20.84">-2</tspan></text>
<text x="0" y="0" font-size="78" text-anchor="middle" fill="#111" font-weight="normal" font-family="Liberation Serif" transform="translate(472.5 204.1) scale(0.25)" >f</text>
<path d="M490.8,242.5 C491.5,242.8 493.47,243.72 495,244.3 C496.53,244.88 498.33,245.47 500,246 C501.67,246.53 503.33,247.07 505,247.5 C506.67,247.93 508.33,248.28 510,248.6 C511.67,248.92 513.33,249.17 515,249.4 C516.67,249.63 517.5,249.77 520,250 C522.5,250.23 526.67,250.57 530,250.8 C533.33,251.03 536.67,251.22 540,251.4 C543.33,251.58 547,251.73 550,251.9 C553,252.07 555.33,252.18 558,252.4 C560.67,252.62 563.67,252.9 566,253.2 C568.33,253.5 570,253.92 572,254.2 C574,254.48 575,254.77 578,254.9 C581,255.03 584.67,254.93 590,255 C595.33,255.07 603.33,255.15 610,255.3 C616.67,255.45 624.83,255.77 630,255.9 C635.17,256.03 636,256.13 641,256.1 C646,256.07 654.08,255.83 660,255.7 C665.92,255.57 673.75,255.37 676.5,255.3" fill="none" stroke="#c9569c" stroke-width="3.4" stroke-linejoin="round" stroke-linecap="round" />
<path d="M490.8,243.4 C491.5,243.7 493.47,244.62 495,245.2 C496.53,245.78 498.33,246.37 500,246.9 C501.67,247.43 503.33,247.97 505,248.4 C506.67,248.83 508.33,249.18 510,249.5 C511.67,249.82 513.33,250.07 515,250.3 C516.67,250.53 517.5,250.67 520,250.9 C522.5,251.13 526.67,251.47 530,251.7 C533.33,251.93 536.67,252.12 540,252.3 C543.33,252.48 547,252.63 550,252.8 C553,252.97 555.33,253.08 558,253.3 C560.67,253.52 563.67,253.8 566,254.1 C568.33,254.4 570,254.82 572,255.1 C574,255.38 575,255.67 578,255.8 C581,255.93 584.67,255.83 590,255.9 C595.33,255.97 603.33,256.05 610,256.2 C616.67,256.35 624.83,256.67 630,256.8 C635.17,256.93 636,257.03 641,257 C646,256.97 654.08,256.73 660,256.6 C665.92,256.47 673.75,256.27 676.5,256.2" fill="none" stroke="#a3186a" stroke-width="1.6" stroke-linejoin="round" stroke-linecap="round" />
<path d="M490.8,242 C491.5,242.3 493.47,243.22 495,243.8 C496.53,244.38 498.33,244.97 500,245.5 C501.67,246.03 503.33,246.57 505,247 C506.67,247.43 508.33,247.78 510,248.1 C511.67,248.42 513.33,248.67 515,248.9 C516.67,249.13 517.5,249.27 520,249.5 C522.5,249.73 526.67,250.07 530,250.3 C533.33,250.53 536.67,250.72 540,250.9 C543.33,251.08 547,251.23 550,251.4 C553,251.57 555.33,251.68 558,251.9 C560.67,252.12 563.67,252.4 566,252.7 C568.33,253 570,253.42 572,253.7 C574,253.98 575,254.27 578,254.4 C581,254.53 584.67,254.43 590,254.5 C595.33,254.57 603.33,254.65 610,254.8 C616.67,254.95 624.83,255.27 630,255.4 C635.17,255.53 636,255.63 641,255.6 C646,255.57 654.08,255.33 660,255.2 C665.92,255.07 673.75,254.87 676.5,254.8" fill="none" stroke="#efc3dd" stroke-width="0.7" stroke-linejoin="round" stroke-linecap="round" stroke-dasharray="3 1"/>
<text x="0" y="0" font-size="32.4" text-anchor="start" fill="#6a1f9a" font-weight="bold" font-family="Liberation Serif" stroke="#6a1f9a" stroke-width="0.88" transform="translate(516.8 243) scale(0.25)" >2 mA cm<tspan baseline-shift="12.96" font-size="21.4">-2</tspan></text>
<rect x="490.6" y="199.3" width="188.2" height="151.1" fill="none" stroke="#1c1c1c" stroke-width="1.3"/>
<line x1="487.8" y1="350.4" x2="490.6" y2="350.4" stroke="#1c1c1c" stroke-width="1.1" />
<text x="0" y="0" font-size="30.4" text-anchor="end" fill="#1c1c1c" font-weight="bold" font-family="Liberation Serif" stroke="#1c1c1c" stroke-width="0.88" transform="translate(485.5 352.98) scale(0.25)" >-0.5</text>
<line x1="487.8" y1="336.03" x2="490.6" y2="336.03" stroke="#1c1c1c" stroke-width="1.1" />
<text x="0" y="0" font-size="30.4" text-anchor="end" fill="#1c1c1c" font-weight="bold" font-family="Liberation Serif" stroke="#1c1c1c" stroke-width="0.88" transform="translate(485.5 338.61) scale(0.25)" >-0.4</text>
<line x1="487.8" y1="321.66" x2="490.6" y2="321.66" stroke="#1c1c1c" stroke-width="1.1" />
<text x="0" y="0" font-size="30.4" text-anchor="end" fill="#1c1c1c" font-weight="bold" font-family="Liberation Serif" stroke="#1c1c1c" stroke-width="0.88" transform="translate(485.5 324.24) scale(0.25)" >-0.3</text>
<line x1="487.8" y1="307.29" x2="490.6" y2="307.29" stroke="#1c1c1c" stroke-width="1.1" />
<text x="0" y="0" font-size="30.4" text-anchor="end" fill="#1c1c1c" font-weight="bold" font-family="Liberation Serif" stroke="#1c1c1c" stroke-width="0.88" transform="translate(485.5 309.87) scale(0.25)" >-0.2</text>
<line x1="487.8" y1="292.92" x2="490.6" y2="292.92" stroke="#1c1c1c" stroke-width="1.1" />
<text x="0" y="0" font-size="30.4" text-anchor="end" fill="#1c1c1c" font-weight="bold" font-family="Liberation Serif" stroke="#1c1c1c" stroke-width="0.88" transform="translate(485.5 295.5) scale(0.25)" >-0.1</text>
<line x1="487.8" y1="278.55" x2="490.6" y2="278.55" stroke="#1c1c1c" stroke-width="1.1" />
<text x="0" y="0" font-size="30.4" text-anchor="end" fill="#1c1c1c" font-weight="bold" font-family="Liberation Serif" stroke="#1c1c1c" stroke-width="0.88" transform="translate(485.5 281.13) scale(0.25)" >0.0</text>
<line x1="487.8" y1="264.18" x2="490.6" y2="264.18" stroke="#1c1c1c" stroke-width="1.1" />
<text x="0" y="0" font-size="30.4" text-anchor="end" fill="#1c1c1c" font-weight="bold" font-family="Liberation Serif" stroke="#1c1c1c" stroke-width="0.88" transform="translate(485.5 266.76) scale(0.25)" >0.1</text>
<line x1="487.8" y1="249.81" x2="490.6" y2="249.81" stroke="#1c1c1c" stroke-width="1.1" />
<text x="0" y="0" font-size="30.4" text-anchor="end" fill="#1c1c1c" font-weight="bold" font-family="Liberation Serif" stroke="#1c1c1c" stroke-width="0.88" transform="translate(485.5 252.39) scale(0.25)" >0.2</text>
<line x1="487.8" y1="235.44" x2="490.6" y2="235.44" stroke="#1c1c1c" stroke-width="1.1" />
<text x="0" y="0" font-size="30.4" text-anchor="end" fill="#1c1c1c" font-weight="bold" font-family="Liberation Serif" stroke="#1c1c1c" stroke-width="0.88" transform="translate(485.5 238.02) scale(0.25)" >0.3</text>
<line x1="487.8" y1="221.07" x2="490.6" y2="221.07" stroke="#1c1c1c" stroke-width="1.1" />
<text x="0" y="0" font-size="30.4" text-anchor="end" fill="#1c1c1c" font-weight="bold" font-family="Liberation Serif" stroke="#1c1c1c" stroke-width="0.88" transform="translate(485.5 223.65) scale(0.25)" >0.4</text>
<line x1="487.8" y1="206.7" x2="490.6" y2="206.7" stroke="#1c1c1c" stroke-width="1.1" />
<text x="0" y="0" font-size="30.4" text-anchor="end" fill="#1c1c1c" font-weight="bold" font-family="Liberation Serif" stroke="#1c1c1c" stroke-width="0.88" transform="translate(485.5 209.28) scale(0.25)" >0.5</text>
<line x1="489.1" y1="343.21" x2="490.6" y2="343.21" stroke="#1c1c1c" stroke-width="1.1" />
<line x1="489.1" y1="328.84" x2="490.6" y2="328.84" stroke="#1c1c1c" stroke-width="1.1" />
<line x1="489.1" y1="314.47" x2="490.6" y2="314.47" stroke="#1c1c1c" stroke-width="1.1" />
<line x1="489.1" y1="300.1" x2="490.6" y2="300.1" stroke="#1c1c1c" stroke-width="1.1" />
<line x1="489.1" y1="285.74" x2="490.6" y2="285.74" stroke="#1c1c1c" stroke-width="1.1" />
<line x1="489.1" y1="271.37" x2="490.6" y2="271.37" stroke="#1c1c1c" stroke-width="1.1" />
<line x1="489.1" y1="256.99" x2="490.6" y2="256.99" stroke="#1c1c1c" stroke-width="1.1" />
<line x1="489.1" y1="242.62" x2="490.6" y2="242.62" stroke="#1c1c1c" stroke-width="1.1" />
<line x1="489.1" y1="228.25" x2="490.6" y2="228.25" stroke="#1c1c1c" stroke-width="1.1" />
<line x1="489.1" y1="213.88" x2="490.6" y2="213.88" stroke="#1c1c1c" stroke-width="1.1" />
<line x1="490.6" y1="350.4" x2="490.6" y2="353.2" stroke="#1c1c1c" stroke-width="1.1" />
<text x="0" y="0" font-size="30.4" text-anchor="middle" fill="#1c1c1c" font-weight="bold" font-family="Liberation Serif" stroke="#1c1c1c" stroke-width="0.88" transform="translate(490.6 362.08) scale(0.25)" >0</text>
<line x1="521.3" y1="350.4" x2="521.3" y2="353.2" stroke="#1c1c1c" stroke-width="1.1" />
<text x="0" y="0" font-size="30.4" text-anchor="middle" fill="#1c1c1c" font-weight="bold" font-family="Liberation Serif" stroke="#1c1c1c" stroke-width="0.88" transform="translate(521.3 362.08) scale(0.25)" >4</text>
<line x1="552" y1="350.4" x2="552" y2="353.2" stroke="#1c1c1c" stroke-width="1.1" />
<text x="0" y="0" font-size="30.4" text-anchor="middle" fill="#1c1c1c" font-weight="bold" font-family="Liberation Serif" stroke="#1c1c1c" stroke-width="0.88" transform="translate(552 362.08) scale(0.25)" >8</text>
<line x1="582.7" y1="350.4" x2="582.7" y2="353.2" stroke="#1c1c1c" stroke-width="1.1" />
<text x="0" y="0" font-size="30.4" text-anchor="middle" fill="#1c1c1c" font-weight="bold" font-family="Liberation Serif" stroke="#1c1c1c" stroke-width="0.88" transform="translate(582.7 362.08) scale(0.25)" >12</text>
<line x1="613.4" y1="350.4" x2="613.4" y2="353.2" stroke="#1c1c1c" stroke-width="1.1" />
<text x="0" y="0" font-size="30.4" text-anchor="middle" fill="#1c1c1c" font-weight="bold" font-family="Liberation Serif" stroke="#1c1c1c" stroke-width="0.88" transform="translate(613.4 362.08) scale(0.25)" >16</text>
<line x1="644.1" y1="350.4" x2="644.1" y2="353.2" stroke="#1c1c1c" stroke-width="1.1" />
<text x="0" y="0" font-size="30.4" text-anchor="middle" fill="#1c1c1c" font-weight="bold" font-family="Liberation Serif" stroke="#1c1c1c" stroke-width="0.88" transform="translate(644.1 362.08) scale(0.25)" >20</text>
<line x1="674.8" y1="350.4" x2="674.8" y2="353.2" stroke="#1c1c1c" stroke-width="1.1" />
<text x="0" y="0" font-size="30.4" text-anchor="middle" fill="#1c1c1c" font-weight="bold" font-family="Liberation Serif" stroke="#1c1c1c" stroke-width="0.88" transform="translate(674.8 362.08) scale(0.25)" >24</text>
<line x1="505.95" y1="350.4" x2="505.95" y2="351.9" stroke="#1c1c1c" stroke-width="1.1" />
<line x1="536.65" y1="350.4" x2="536.65" y2="351.9" stroke="#1c1c1c" stroke-width="1.1" />
<line x1="567.35" y1="350.4" x2="567.35" y2="351.9" stroke="#1c1c1c" stroke-width="1.1" />
<line x1="598.05" y1="350.4" x2="598.05" y2="351.9" stroke="#1c1c1c" stroke-width="1.1" />
<line x1="628.75" y1="350.4" x2="628.75" y2="351.9" stroke="#1c1c1c" stroke-width="1.1" />
<line x1="659.45" y1="350.4" x2="659.45" y2="351.9" stroke="#1c1c1c" stroke-width="1.1" />
<text x="0" y="0" font-size="31.6" text-anchor="middle" fill="#1c1c1c" font-weight="bold" font-family="Liberation Serif" stroke="#1c1c1c" stroke-width="0.88" transform="translate(589.5 369.6) scale(0.25)" >Time (h)</text>
<text x="0" y="0" font-size="31.2" text-anchor="middle" fill="#1c1c1c" font-weight="bold" font-family="Liberation Serif" stroke="#1c1c1c" stroke-width="0.88" transform="translate(473.8 274.7) rotate(-90) scale(0.25)" >Potential (V <tspan font-style="italic">vs.</tspan> Zn/Zn<tspan baseline-shift="12.48" font-size="20.6">2+</tspan>)</text>
</svg></body></html>
